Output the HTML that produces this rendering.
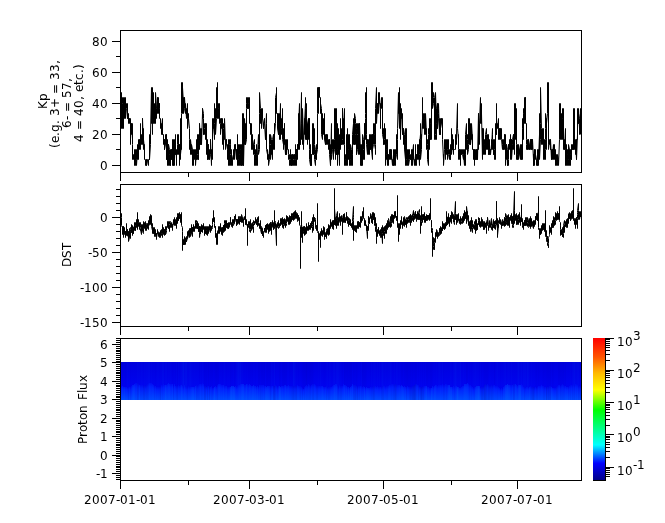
<!DOCTYPE html>
<html><head><meta charset="utf-8"><style>
html,body{margin:0;padding:0;background:#fff;}
body{width:665px;height:523px;overflow:hidden;}
svg{display:block;will-change:transform;}
text{font-family:"DejaVu Sans","Liberation Sans",sans-serif;font-size:12px;fill:#000;}
.tl{text-anchor:end;dominant-baseline:central;}
.xl{text-anchor:middle;}
.yt{text-anchor:middle;}
</style></head><body>
<svg width="665" height="523" viewBox="0 0 665 523">
<defs><linearGradient id="cw" x1="0" y1="1" x2="0" y2="0"><stop offset="0.0000" stop-color="rgb(0,0,137)"/><stop offset="0.1176" stop-color="rgb(0,0,255)"/><stop offset="0.2471" stop-color="rgb(0,255,255)"/><stop offset="0.4941" stop-color="rgb(0,255,0)"/><stop offset="0.6353" stop-color="rgb(255,255,0)"/><stop offset="0.7529" stop-color="rgb(255,185,0)"/><stop offset="0.8667" stop-color="rgb(255,84,0)"/><stop offset="1.0000" stop-color="rgb(255,0,0)"/></linearGradient></defs>
<rect x="593" y="338" width="12" height="142" fill="url(#cw)"/>
<defs><linearGradient id="bandg" x1="0" y1="0" x2="0" y2="1"><stop offset="0" stop-color="rgb(0,0,222)"/><stop offset="0.7" stop-color="rgb(0,4,240)"/><stop offset="1" stop-color="rgb(0,16,248)"/></linearGradient><linearGradient id="bandl" x1="0" y1="0" x2="0" y2="1"><stop offset="0" stop-color="rgb(0,28,252)" stop-opacity="0.3"/><stop offset="0.22" stop-color="rgb(0,30,252)"/><stop offset="1" stop-color="rgb(0,72,255)"/></linearGradient></defs>
<rect x="121" y="362" width="460" height="38" fill="url(#bandg)"/>
<g fill="url(#bandl)"><rect x="121" y="387" width="1" height="13"/><rect x="122" y="386" width="1" height="14"/><rect x="123" y="387" width="4" height="13"/><rect x="127" y="388" width="1" height="12"/><rect x="128" y="387" width="3" height="13"/><rect x="131" y="386" width="1" height="14"/><rect x="132" y="385" width="2" height="15"/><rect x="134" y="384" width="1" height="16"/><rect x="135" y="383" width="3" height="17"/><rect x="138" y="384" width="1" height="16"/><rect x="139" y="385" width="4" height="15"/><rect x="143" y="386" width="1" height="14"/><rect x="144" y="385" width="1" height="15"/><rect x="145" y="386" width="1" height="14"/><rect x="146" y="385" width="1" height="15"/><rect x="147" y="384" width="1" height="16"/><rect x="148" y="383" width="4" height="17"/><rect x="152" y="384" width="1" height="16"/><rect x="153" y="385" width="1" height="15"/><rect x="154" y="386" width="2" height="14"/><rect x="156" y="387" width="4" height="13"/><rect x="160" y="386" width="1" height="14"/><rect x="161" y="385" width="2" height="15"/><rect x="163" y="384" width="1" height="16"/><rect x="164" y="385" width="3" height="15"/><rect x="167" y="384" width="1" height="16"/><rect x="168" y="383" width="1" height="17"/><rect x="169" y="384" width="4" height="16"/><rect x="173" y="386" width="1" height="14"/><rect x="174" y="384" width="1" height="16"/><rect x="175" y="386" width="3" height="14"/><rect x="178" y="385" width="1" height="15"/><rect x="179" y="386" width="1" height="14"/><rect x="180" y="385" width="2" height="15"/><rect x="182" y="386" width="1" height="14"/><rect x="183" y="387" width="1" height="13"/><rect x="184" y="385" width="1" height="15"/><rect x="185" y="387" width="3" height="13"/><rect x="188" y="386" width="1" height="14"/><rect x="189" y="387" width="6" height="13"/><rect x="195" y="386" width="1" height="14"/><rect x="196" y="385" width="1" height="15"/><rect x="197" y="386" width="1" height="14"/><rect x="198" y="385" width="1" height="15"/><rect x="199" y="384" width="3" height="16"/><rect x="202" y="383" width="1" height="17"/><rect x="203" y="384" width="1" height="16"/><rect x="204" y="386" width="2" height="14"/><rect x="206" y="387" width="1" height="13"/><rect x="207" y="386" width="2" height="14"/><rect x="209" y="387" width="2" height="13"/><rect x="211" y="386" width="1" height="14"/><rect x="212" y="388" width="2" height="12"/><rect x="214" y="387" width="1" height="13"/><rect x="215" y="386" width="1" height="14"/><rect x="216" y="387" width="1" height="13"/><rect x="217" y="385" width="1" height="15"/><rect x="218" y="384" width="3" height="16"/><rect x="221" y="385" width="3" height="15"/><rect x="224" y="386" width="3" height="14"/><rect x="227" y="387" width="4" height="13"/><rect x="231" y="386" width="3" height="14"/><rect x="234" y="387" width="1" height="13"/><rect x="235" y="386" width="1" height="14"/><rect x="236" y="387" width="1" height="13"/><rect x="237" y="386" width="1" height="14"/><rect x="238" y="385" width="2" height="15"/><rect x="240" y="384" width="4" height="16"/><rect x="244" y="385" width="2" height="15"/><rect x="246" y="384" width="2" height="16"/><rect x="248" y="385" width="1" height="15"/><rect x="249" y="384" width="1" height="16"/><rect x="250" y="385" width="1" height="15"/><rect x="251" y="386" width="2" height="14"/><rect x="253" y="385" width="1" height="15"/><rect x="254" y="386" width="2" height="14"/><rect x="256" y="387" width="1" height="13"/><rect x="257" y="386" width="1" height="14"/><rect x="258" y="387" width="1" height="13"/><rect x="259" y="385" width="5" height="15"/><rect x="264" y="386" width="2" height="14"/><rect x="266" y="387" width="1" height="13"/><rect x="267" y="386" width="8" height="14"/><rect x="275" y="385" width="1" height="15"/><rect x="276" y="386" width="1" height="14"/><rect x="277" y="387" width="1" height="13"/><rect x="278" y="386" width="2" height="14"/><rect x="280" y="387" width="1" height="13"/><rect x="281" y="386" width="3" height="14"/><rect x="284" y="385" width="2" height="15"/><rect x="286" y="386" width="2" height="14"/><rect x="288" y="385" width="1" height="15"/><rect x="289" y="386" width="8" height="14"/><rect x="297" y="385" width="1" height="15"/><rect x="298" y="386" width="3" height="14"/><rect x="301" y="387" width="1" height="13"/><rect x="302" y="388" width="1" height="12"/><rect x="303" y="389" width="1" height="11"/><rect x="304" y="387" width="1" height="13"/><rect x="305" y="386" width="1" height="14"/><rect x="306" y="385" width="1" height="15"/><rect x="307" y="386" width="1" height="14"/><rect x="308" y="384" width="1" height="16"/><rect x="309" y="385" width="1" height="15"/><rect x="310" y="386" width="1" height="14"/><rect x="311" y="385" width="1" height="15"/><rect x="312" y="384" width="3" height="16"/><rect x="315" y="385" width="1" height="15"/><rect x="316" y="386" width="7" height="14"/><rect x="323" y="387" width="3" height="13"/><rect x="326" y="386" width="1" height="14"/><rect x="327" y="388" width="1" height="12"/><rect x="328" y="387" width="4" height="13"/><rect x="332" y="386" width="1" height="14"/><rect x="333" y="385" width="2" height="15"/><rect x="335" y="384" width="2" height="16"/><rect x="337" y="385" width="1" height="15"/><rect x="338" y="387" width="1" height="13"/><rect x="339" y="385" width="1" height="15"/><rect x="340" y="386" width="3" height="14"/><rect x="343" y="384" width="1" height="16"/><rect x="344" y="385" width="2" height="15"/><rect x="346" y="386" width="1" height="14"/><rect x="347" y="387" width="2" height="13"/><rect x="349" y="388" width="1" height="12"/><rect x="350" y="387" width="1" height="13"/><rect x="351" y="386" width="1" height="14"/><rect x="352" y="384" width="1" height="16"/><rect x="353" y="385" width="3" height="15"/><rect x="356" y="386" width="1" height="14"/><rect x="357" y="387" width="1" height="13"/><rect x="358" y="386" width="4" height="14"/><rect x="362" y="387" width="1" height="13"/><rect x="363" y="386" width="1" height="14"/><rect x="364" y="387" width="1" height="13"/><rect x="365" y="388" width="1" height="12"/><rect x="366" y="387" width="1" height="13"/><rect x="367" y="388" width="3" height="12"/><rect x="370" y="387" width="3" height="13"/><rect x="373" y="386" width="3" height="14"/><rect x="376" y="387" width="1" height="13"/><rect x="377" y="386" width="1" height="14"/><rect x="378" y="387" width="4" height="13"/><rect x="382" y="386" width="1" height="14"/><rect x="383" y="385" width="1" height="15"/><rect x="384" y="386" width="1" height="14"/><rect x="385" y="387" width="1" height="13"/><rect x="386" y="386" width="3" height="14"/><rect x="389" y="385" width="2" height="15"/><rect x="391" y="384" width="3" height="16"/><rect x="394" y="385" width="1" height="15"/><rect x="395" y="384" width="1" height="16"/><rect x="396" y="385" width="4" height="15"/><rect x="400" y="386" width="1" height="14"/><rect x="401" y="385" width="1" height="15"/><rect x="402" y="386" width="1" height="14"/><rect x="403" y="387" width="1" height="13"/><rect x="404" y="386" width="1" height="14"/><rect x="405" y="387" width="2" height="13"/><rect x="407" y="386" width="1" height="14"/><rect x="408" y="387" width="4" height="13"/><rect x="412" y="386" width="2" height="14"/><rect x="414" y="385" width="1" height="15"/><rect x="415" y="384" width="2" height="16"/><rect x="417" y="385" width="2" height="15"/><rect x="419" y="387" width="4" height="13"/><rect x="423" y="386" width="4" height="14"/><rect x="427" y="387" width="2" height="13"/><rect x="429" y="388" width="3" height="12"/><rect x="432" y="386" width="1" height="14"/><rect x="433" y="387" width="1" height="13"/><rect x="434" y="386" width="1" height="14"/><rect x="435" y="385" width="2" height="15"/><rect x="437" y="386" width="1" height="14"/><rect x="438" y="385" width="4" height="15"/><rect x="442" y="384" width="1" height="16"/><rect x="443" y="385" width="2" height="15"/><rect x="445" y="384" width="2" height="16"/><rect x="447" y="385" width="3" height="15"/><rect x="450" y="387" width="3" height="13"/><rect x="453" y="386" width="2" height="14"/><rect x="455" y="385" width="1" height="15"/><rect x="456" y="386" width="1" height="14"/><rect x="457" y="387" width="2" height="13"/><rect x="459" y="388" width="2" height="12"/><rect x="461" y="387" width="1" height="13"/><rect x="462" y="386" width="2" height="14"/><rect x="464" y="384" width="3" height="16"/><rect x="467" y="383" width="1" height="17"/><rect x="468" y="384" width="1" height="16"/><rect x="469" y="385" width="2" height="15"/><rect x="471" y="386" width="1" height="14"/><rect x="472" y="387" width="1" height="13"/><rect x="473" y="388" width="1" height="12"/><rect x="474" y="387" width="2" height="13"/><rect x="476" y="386" width="4" height="14"/><rect x="480" y="388" width="1" height="12"/><rect x="481" y="387" width="3" height="13"/><rect x="484" y="385" width="1" height="15"/><rect x="485" y="384" width="1" height="16"/><rect x="486" y="385" width="1" height="15"/><rect x="487" y="384" width="1" height="16"/><rect x="488" y="385" width="1" height="15"/><rect x="489" y="386" width="2" height="14"/><rect x="491" y="385" width="1" height="15"/><rect x="492" y="386" width="1" height="14"/><rect x="493" y="385" width="2" height="15"/><rect x="495" y="386" width="3" height="14"/><rect x="498" y="387" width="1" height="13"/><rect x="499" y="388" width="1" height="12"/><rect x="500" y="389" width="1" height="11"/><rect x="501" y="388" width="1" height="12"/><rect x="502" y="389" width="1" height="11"/><rect x="503" y="387" width="1" height="13"/><rect x="504" y="386" width="1" height="14"/><rect x="505" y="385" width="2" height="15"/><rect x="507" y="384" width="1" height="16"/><rect x="508" y="385" width="5" height="15"/><rect x="513" y="384" width="3" height="16"/><rect x="516" y="385" width="1" height="15"/><rect x="517" y="386" width="1" height="14"/><rect x="518" y="385" width="3" height="15"/><rect x="521" y="384" width="1" height="16"/><rect x="522" y="385" width="1" height="15"/><rect x="523" y="387" width="2" height="13"/><rect x="525" y="388" width="1" height="12"/><rect x="526" y="387" width="2" height="13"/><rect x="528" y="388" width="1" height="12"/><rect x="529" y="387" width="1" height="13"/><rect x="530" y="386" width="1" height="14"/><rect x="531" y="387" width="3" height="13"/><rect x="534" y="388" width="1" height="12"/><rect x="535" y="387" width="1" height="13"/><rect x="536" y="388" width="1" height="12"/><rect x="537" y="387" width="1" height="13"/><rect x="538" y="386" width="3" height="14"/><rect x="541" y="385" width="1" height="15"/><rect x="542" y="386" width="2" height="14"/><rect x="544" y="387" width="5" height="13"/><rect x="549" y="386" width="2" height="14"/><rect x="551" y="387" width="1" height="13"/><rect x="552" y="388" width="4" height="12"/><rect x="556" y="387" width="1" height="13"/><rect x="557" y="386" width="1" height="14"/><rect x="558" y="385" width="2" height="15"/><rect x="560" y="386" width="1" height="14"/><rect x="561" y="385" width="1" height="15"/><rect x="562" y="384" width="1" height="16"/><rect x="563" y="385" width="1" height="15"/><rect x="564" y="386" width="2" height="14"/><rect x="566" y="387" width="3" height="13"/><rect x="569" y="386" width="1" height="14"/><rect x="570" y="385" width="3" height="15"/><rect x="573" y="384" width="1" height="16"/><rect x="574" y="385" width="1" height="15"/><rect x="575" y="384" width="2" height="16"/><rect x="577" y="385" width="1" height="15"/><rect x="578" y="386" width="2" height="14"/><rect x="580" y="387" width="1" height="13"/></g>
<g fill="rgb(0,140,255)"><rect x="122" y="386" width="1" height="14" fill-opacity="0.08"/><rect x="123" y="387" width="1" height="13" fill-opacity="0.05"/><rect x="124" y="387" width="1" height="13" fill-opacity="0.09"/><rect x="125" y="387" width="1" height="13" fill-opacity="0.03"/><rect x="126" y="387" width="1" height="13" fill-opacity="0.04"/><rect x="127" y="388" width="1" height="12" fill-opacity="0.02"/><rect x="127" y="362" width="1" height="26" fill-opacity="0.02"/><rect x="129" y="387" width="1" height="13" fill-opacity="0.03"/><rect x="132" y="385" width="1" height="15" fill-opacity="0.09"/><rect x="133" y="385" width="1" height="15" fill-opacity="0.14"/><rect x="134" y="384" width="1" height="16" fill-opacity="0.11"/><rect x="137" y="362" width="1" height="21" fill-opacity="0.03"/><rect x="138" y="362" width="1" height="22" fill-opacity="0.02"/><rect x="139" y="385" width="1" height="15" fill-opacity="0.10"/><rect x="139" y="362" width="1" height="23" fill-opacity="0.02"/><rect x="140" y="362" width="1" height="23" fill-opacity="0.02"/><rect x="141" y="362" width="1" height="23" fill-opacity="0.04"/><rect x="142" y="362" width="1" height="23" fill-opacity="0.03"/><rect x="143" y="362" width="1" height="24" fill-opacity="0.01"/><rect x="144" y="362" width="1" height="23" fill-opacity="0.04"/><rect x="145" y="362" width="1" height="24" fill-opacity="0.03"/><rect x="146" y="362" width="1" height="23" fill-opacity="0.04"/><rect x="147" y="362" width="1" height="22" fill-opacity="0.04"/><rect x="148" y="362" width="1" height="21" fill-opacity="0.05"/><rect x="149" y="383" width="1" height="17" fill-opacity="0.06"/><rect x="149" y="362" width="1" height="21" fill-opacity="0.05"/><rect x="150" y="383" width="1" height="17" fill-opacity="0.02"/><rect x="151" y="362" width="1" height="21" fill-opacity="0.02"/><rect x="152" y="384" width="1" height="16" fill-opacity="0.05"/><rect x="153" y="385" width="1" height="15" fill-opacity="0.05"/><rect x="155" y="386" width="1" height="14" fill-opacity="0.03"/><rect x="157" y="362" width="1" height="25" fill-opacity="0.02"/><rect x="158" y="362" width="1" height="25" fill-opacity="0.02"/><rect x="160" y="362" width="1" height="24" fill-opacity="0.02"/><rect x="161" y="362" width="1" height="23" fill-opacity="0.02"/><rect x="162" y="362" width="1" height="23" fill-opacity="0.05"/><rect x="163" y="362" width="1" height="22" fill-opacity="0.05"/><rect x="164" y="385" width="1" height="15" fill-opacity="0.04"/><rect x="164" y="362" width="1" height="23" fill-opacity="0.01"/><rect x="165" y="385" width="1" height="15" fill-opacity="0.15"/><rect x="165" y="362" width="1" height="23" fill-opacity="0.04"/><rect x="166" y="385" width="1" height="15" fill-opacity="0.08"/><rect x="166" y="362" width="1" height="23" fill-opacity="0.04"/><rect x="167" y="384" width="1" height="16" fill-opacity="0.05"/><rect x="167" y="362" width="1" height="22" fill-opacity="0.01"/><rect x="168" y="383" width="1" height="17" fill-opacity="0.07"/><rect x="168" y="362" width="1" height="21" fill-opacity="0.03"/><rect x="169" y="384" width="1" height="16" fill-opacity="0.09"/><rect x="169" y="362" width="1" height="22" fill-opacity="0.02"/><rect x="170" y="384" width="1" height="16" fill-opacity="0.02"/><rect x="170" y="362" width="1" height="22" fill-opacity="0.02"/><rect x="172" y="384" width="1" height="16" fill-opacity="0.07"/><rect x="174" y="384" width="1" height="16" fill-opacity="0.03"/><rect x="175" y="386" width="1" height="14" fill-opacity="0.04"/><rect x="176" y="362" width="1" height="24" fill-opacity="0.02"/><rect x="178" y="362" width="1" height="23" fill-opacity="0.03"/><rect x="180" y="362" width="1" height="23" fill-opacity="0.04"/><rect x="181" y="385" width="1" height="15" fill-opacity="0.11"/><rect x="181" y="362" width="1" height="23" fill-opacity="0.05"/><rect x="182" y="386" width="1" height="14" fill-opacity="0.07"/><rect x="182" y="362" width="1" height="24" fill-opacity="0.07"/><rect x="183" y="387" width="1" height="13" fill-opacity="0.04"/><rect x="183" y="362" width="1" height="25" fill-opacity="0.11"/><rect x="184" y="385" width="1" height="15" fill-opacity="0.05"/><rect x="184" y="362" width="1" height="23" fill-opacity="0.06"/><rect x="185" y="387" width="1" height="13" fill-opacity="0.06"/><rect x="185" y="362" width="1" height="25" fill-opacity="0.08"/><rect x="186" y="362" width="1" height="25" fill-opacity="0.08"/><rect x="187" y="362" width="1" height="25" fill-opacity="0.04"/><rect x="188" y="362" width="1" height="24" fill-opacity="0.04"/><rect x="189" y="387" width="1" height="13" fill-opacity="0.02"/><rect x="189" y="362" width="1" height="25" fill-opacity="0.05"/><rect x="190" y="387" width="1" height="13" fill-opacity="0.06"/><rect x="190" y="362" width="1" height="25" fill-opacity="0.06"/><rect x="191" y="387" width="1" height="13" fill-opacity="0.11"/><rect x="191" y="362" width="1" height="25" fill-opacity="0.04"/><rect x="192" y="387" width="1" height="13" fill-opacity="0.15"/><rect x="192" y="362" width="1" height="25" fill-opacity="0.03"/><rect x="193" y="387" width="1" height="13" fill-opacity="0.15"/><rect x="193" y="362" width="1" height="25" fill-opacity="0.02"/><rect x="194" y="387" width="1" height="13" fill-opacity="0.06"/><rect x="194" y="362" width="1" height="25" fill-opacity="0.03"/><rect x="195" y="386" width="1" height="14" fill-opacity="0.11"/><rect x="195" y="362" width="1" height="24" fill-opacity="0.02"/><rect x="196" y="362" width="1" height="23" fill-opacity="0.02"/><rect x="197" y="362" width="1" height="24" fill-opacity="0.02"/><rect x="198" y="362" width="1" height="23" fill-opacity="0.02"/><rect x="200" y="384" width="1" height="16" fill-opacity="0.03"/><rect x="200" y="362" width="1" height="22" fill-opacity="0.02"/><rect x="202" y="362" width="1" height="21" fill-opacity="0.03"/><rect x="210" y="387" width="1" height="13" fill-opacity="0.03"/><rect x="213" y="388" width="1" height="12" fill-opacity="0.05"/><rect x="214" y="387" width="1" height="13" fill-opacity="0.14"/><rect x="215" y="386" width="1" height="14" fill-opacity="0.03"/><rect x="218" y="384" width="1" height="16" fill-opacity="0.04"/><rect x="219" y="384" width="1" height="16" fill-opacity="0.06"/><rect x="221" y="385" width="1" height="15" fill-opacity="0.03"/><rect x="223" y="385" width="1" height="15" fill-opacity="0.06"/><rect x="224" y="362" width="1" height="24" fill-opacity="0.03"/><rect x="225" y="386" width="1" height="14" fill-opacity="0.04"/><rect x="226" y="386" width="1" height="14" fill-opacity="0.05"/><rect x="229" y="387" width="1" height="13" fill-opacity="0.03"/><rect x="230" y="387" width="1" height="13" fill-opacity="0.16"/><rect x="231" y="386" width="1" height="14" fill-opacity="0.20"/><rect x="232" y="386" width="1" height="14" fill-opacity="0.15"/><rect x="233" y="386" width="1" height="14" fill-opacity="0.19"/><rect x="234" y="387" width="1" height="13" fill-opacity="0.17"/><rect x="235" y="386" width="1" height="14" fill-opacity="0.05"/><rect x="236" y="387" width="1" height="13" fill-opacity="0.03"/><rect x="236" y="362" width="1" height="25" fill-opacity="0.03"/><rect x="237" y="362" width="1" height="24" fill-opacity="0.05"/><rect x="238" y="385" width="1" height="15" fill-opacity="0.04"/><rect x="238" y="362" width="1" height="23" fill-opacity="0.07"/><rect x="239" y="385" width="1" height="15" fill-opacity="0.07"/><rect x="239" y="362" width="1" height="23" fill-opacity="0.05"/><rect x="240" y="384" width="1" height="16" fill-opacity="0.05"/><rect x="240" y="362" width="1" height="22" fill-opacity="0.07"/><rect x="241" y="384" width="1" height="16" fill-opacity="0.11"/><rect x="241" y="362" width="1" height="22" fill-opacity="0.03"/><rect x="242" y="384" width="1" height="16" fill-opacity="0.14"/><rect x="242" y="362" width="1" height="22" fill-opacity="0.03"/><rect x="243" y="384" width="1" height="16" fill-opacity="0.13"/><rect x="244" y="385" width="1" height="15" fill-opacity="0.05"/><rect x="245" y="385" width="1" height="15" fill-opacity="0.06"/><rect x="246" y="384" width="1" height="16" fill-opacity="0.10"/><rect x="248" y="385" width="1" height="15" fill-opacity="0.03"/><rect x="249" y="384" width="1" height="16" fill-opacity="0.06"/><rect x="250" y="385" width="1" height="15" fill-opacity="0.07"/><rect x="251" y="386" width="1" height="14" fill-opacity="0.07"/><rect x="252" y="386" width="1" height="14" fill-opacity="0.13"/><rect x="253" y="385" width="1" height="15" fill-opacity="0.11"/><rect x="254" y="386" width="1" height="14" fill-opacity="0.08"/><rect x="255" y="386" width="1" height="14" fill-opacity="0.10"/><rect x="256" y="387" width="1" height="13" fill-opacity="0.05"/><rect x="257" y="386" width="1" height="14" fill-opacity="0.08"/><rect x="265" y="386" width="1" height="14" fill-opacity="0.09"/><rect x="266" y="387" width="1" height="13" fill-opacity="0.13"/><rect x="267" y="386" width="1" height="14" fill-opacity="0.10"/><rect x="268" y="386" width="1" height="14" fill-opacity="0.08"/><rect x="269" y="386" width="1" height="14" fill-opacity="0.04"/><rect x="271" y="362" width="1" height="24" fill-opacity="0.03"/><rect x="272" y="386" width="1" height="14" fill-opacity="0.07"/><rect x="272" y="362" width="1" height="24" fill-opacity="0.01"/><rect x="274" y="362" width="1" height="24" fill-opacity="0.05"/><rect x="278" y="386" width="1" height="14" fill-opacity="0.02"/><rect x="279" y="386" width="1" height="14" fill-opacity="0.15"/><rect x="280" y="387" width="1" height="13" fill-opacity="0.15"/><rect x="281" y="386" width="1" height="14" fill-opacity="0.04"/><rect x="282" y="386" width="1" height="14" fill-opacity="0.06"/><rect x="285" y="385" width="1" height="15" fill-opacity="0.07"/><rect x="286" y="386" width="1" height="14" fill-opacity="0.04"/><rect x="287" y="386" width="1" height="14" fill-opacity="0.06"/><rect x="288" y="385" width="1" height="15" fill-opacity="0.04"/><rect x="288" y="362" width="1" height="23" fill-opacity="0.01"/><rect x="293" y="362" width="1" height="24" fill-opacity="0.07"/><rect x="294" y="362" width="1" height="24" fill-opacity="0.05"/><rect x="295" y="362" width="1" height="24" fill-opacity="0.03"/><rect x="297" y="362" width="1" height="23" fill-opacity="0.01"/><rect x="298" y="386" width="1" height="14" fill-opacity="0.04"/><rect x="303" y="389" width="1" height="11" fill-opacity="0.05"/><rect x="318" y="362" width="1" height="24" fill-opacity="0.02"/><rect x="319" y="386" width="1" height="14" fill-opacity="0.02"/><rect x="320" y="362" width="1" height="24" fill-opacity="0.04"/><rect x="321" y="386" width="1" height="14" fill-opacity="0.04"/><rect x="322" y="386" width="1" height="14" fill-opacity="0.08"/><rect x="323" y="387" width="1" height="13" fill-opacity="0.05"/><rect x="325" y="387" width="1" height="13" fill-opacity="0.05"/><rect x="326" y="362" width="1" height="24" fill-opacity="0.01"/><rect x="327" y="362" width="1" height="26" fill-opacity="0.03"/><rect x="329" y="362" width="1" height="25" fill-opacity="0.03"/><rect x="330" y="362" width="1" height="25" fill-opacity="0.02"/><rect x="331" y="387" width="1" height="13" fill-opacity="0.05"/><rect x="332" y="386" width="1" height="14" fill-opacity="0.03"/><rect x="333" y="385" width="1" height="15" fill-opacity="0.05"/><rect x="333" y="362" width="1" height="23" fill-opacity="0.04"/><rect x="334" y="385" width="1" height="15" fill-opacity="0.13"/><rect x="334" y="362" width="1" height="23" fill-opacity="0.05"/><rect x="335" y="384" width="1" height="16" fill-opacity="0.07"/><rect x="335" y="362" width="1" height="22" fill-opacity="0.02"/><rect x="336" y="384" width="1" height="16" fill-opacity="0.08"/><rect x="336" y="362" width="1" height="22" fill-opacity="0.05"/><rect x="337" y="362" width="1" height="23" fill-opacity="0.06"/><rect x="338" y="362" width="1" height="25" fill-opacity="0.05"/><rect x="339" y="362" width="1" height="23" fill-opacity="0.03"/><rect x="340" y="362" width="1" height="24" fill-opacity="0.02"/><rect x="344" y="385" width="1" height="15" fill-opacity="0.08"/><rect x="346" y="386" width="1" height="14" fill-opacity="0.07"/><rect x="348" y="387" width="1" height="13" fill-opacity="0.10"/><rect x="349" y="388" width="1" height="12" fill-opacity="0.04"/><rect x="350" y="387" width="1" height="13" fill-opacity="0.13"/><rect x="351" y="386" width="1" height="14" fill-opacity="0.06"/><rect x="352" y="384" width="1" height="16" fill-opacity="0.07"/><rect x="360" y="386" width="1" height="14" fill-opacity="0.03"/><rect x="361" y="362" width="1" height="24" fill-opacity="0.03"/><rect x="364" y="387" width="1" height="13" fill-opacity="0.10"/><rect x="366" y="387" width="1" height="13" fill-opacity="0.08"/><rect x="367" y="388" width="1" height="12" fill-opacity="0.11"/><rect x="368" y="388" width="1" height="12" fill-opacity="0.09"/><rect x="369" y="388" width="1" height="12" fill-opacity="0.06"/><rect x="371" y="362" width="1" height="25" fill-opacity="0.03"/><rect x="373" y="362" width="1" height="24" fill-opacity="0.02"/><rect x="374" y="362" width="1" height="24" fill-opacity="0.03"/><rect x="375" y="362" width="1" height="24" fill-opacity="0.02"/><rect x="376" y="387" width="1" height="13" fill-opacity="0.03"/><rect x="377" y="362" width="1" height="24" fill-opacity="0.03"/><rect x="379" y="362" width="1" height="25" fill-opacity="0.03"/><rect x="380" y="387" width="1" height="13" fill-opacity="0.04"/><rect x="381" y="362" width="1" height="25" fill-opacity="0.03"/><rect x="382" y="362" width="1" height="24" fill-opacity="0.06"/><rect x="383" y="362" width="1" height="23" fill-opacity="0.03"/><rect x="384" y="362" width="1" height="24" fill-opacity="0.02"/><rect x="385" y="362" width="1" height="25" fill-opacity="0.03"/><rect x="386" y="362" width="1" height="24" fill-opacity="0.02"/><rect x="387" y="362" width="1" height="24" fill-opacity="0.02"/><rect x="388" y="386" width="1" height="14" fill-opacity="0.06"/><rect x="388" y="362" width="1" height="24" fill-opacity="0.03"/><rect x="389" y="385" width="1" height="15" fill-opacity="0.06"/><rect x="389" y="362" width="1" height="23" fill-opacity="0.03"/><rect x="390" y="385" width="1" height="15" fill-opacity="0.02"/><rect x="390" y="362" width="1" height="23" fill-opacity="0.05"/><rect x="391" y="362" width="1" height="22" fill-opacity="0.03"/><rect x="394" y="362" width="1" height="23" fill-opacity="0.03"/><rect x="396" y="362" width="1" height="23" fill-opacity="0.04"/><rect x="397" y="362" width="1" height="23" fill-opacity="0.03"/><rect x="398" y="385" width="1" height="15" fill-opacity="0.03"/><rect x="398" y="362" width="1" height="23" fill-opacity="0.01"/><rect x="399" y="385" width="1" height="15" fill-opacity="0.06"/><rect x="399" y="362" width="1" height="23" fill-opacity="0.02"/><rect x="400" y="386" width="1" height="14" fill-opacity="0.06"/><rect x="401" y="385" width="1" height="15" fill-opacity="0.08"/><rect x="402" y="386" width="1" height="14" fill-opacity="0.13"/><rect x="403" y="387" width="1" height="13" fill-opacity="0.13"/><rect x="404" y="386" width="1" height="14" fill-opacity="0.04"/><rect x="405" y="387" width="1" height="13" fill-opacity="0.08"/><rect x="417" y="385" width="1" height="15" fill-opacity="0.04"/><rect x="425" y="386" width="1" height="14" fill-opacity="0.07"/><rect x="426" y="386" width="1" height="14" fill-opacity="0.12"/><rect x="428" y="387" width="1" height="13" fill-opacity="0.04"/><rect x="431" y="388" width="1" height="12" fill-opacity="0.14"/><rect x="432" y="386" width="1" height="14" fill-opacity="0.06"/><rect x="433" y="387" width="1" height="13" fill-opacity="0.03"/><rect x="434" y="386" width="1" height="14" fill-opacity="0.10"/><rect x="434" y="362" width="1" height="24" fill-opacity="0.01"/><rect x="435" y="385" width="1" height="15" fill-opacity="0.07"/><rect x="436" y="362" width="1" height="23" fill-opacity="0.02"/><rect x="438" y="362" width="1" height="23" fill-opacity="0.03"/><rect x="439" y="362" width="1" height="23" fill-opacity="0.04"/><rect x="440" y="385" width="1" height="15" fill-opacity="0.04"/><rect x="440" y="362" width="1" height="23" fill-opacity="0.02"/><rect x="442" y="362" width="1" height="22" fill-opacity="0.04"/><rect x="447" y="385" width="1" height="15" fill-opacity="0.03"/><rect x="448" y="385" width="1" height="15" fill-opacity="0.13"/><rect x="449" y="385" width="1" height="15" fill-opacity="0.16"/><rect x="450" y="387" width="1" height="13" fill-opacity="0.17"/><rect x="450" y="362" width="1" height="25" fill-opacity="0.03"/><rect x="451" y="387" width="1" height="13" fill-opacity="0.18"/><rect x="451" y="362" width="1" height="25" fill-opacity="0.02"/><rect x="452" y="387" width="1" height="13" fill-opacity="0.05"/><rect x="453" y="386" width="1" height="14" fill-opacity="0.04"/><rect x="453" y="362" width="1" height="24" fill-opacity="0.04"/><rect x="454" y="362" width="1" height="24" fill-opacity="0.06"/><rect x="455" y="362" width="1" height="23" fill-opacity="0.08"/><rect x="456" y="386" width="1" height="14" fill-opacity="0.09"/><rect x="456" y="362" width="1" height="24" fill-opacity="0.05"/><rect x="457" y="387" width="1" height="13" fill-opacity="0.22"/><rect x="457" y="362" width="1" height="25" fill-opacity="0.04"/><rect x="458" y="387" width="1" height="13" fill-opacity="0.13"/><rect x="458" y="362" width="1" height="25" fill-opacity="0.04"/><rect x="459" y="388" width="1" height="12" fill-opacity="0.11"/><rect x="459" y="362" width="1" height="26" fill-opacity="0.04"/><rect x="460" y="388" width="1" height="12" fill-opacity="0.10"/><rect x="460" y="362" width="1" height="26" fill-opacity="0.06"/><rect x="461" y="387" width="1" height="13" fill-opacity="0.08"/><rect x="462" y="386" width="1" height="14" fill-opacity="0.05"/><rect x="463" y="386" width="1" height="14" fill-opacity="0.09"/><rect x="463" y="362" width="1" height="24" fill-opacity="0.02"/><rect x="464" y="384" width="1" height="16" fill-opacity="0.12"/><rect x="465" y="384" width="1" height="16" fill-opacity="0.12"/><rect x="466" y="384" width="1" height="16" fill-opacity="0.11"/><rect x="467" y="383" width="1" height="17" fill-opacity="0.07"/><rect x="468" y="384" width="1" height="16" fill-opacity="0.03"/><rect x="472" y="387" width="1" height="13" fill-opacity="0.03"/><rect x="473" y="362" width="1" height="26" fill-opacity="0.02"/><rect x="474" y="362" width="1" height="25" fill-opacity="0.03"/><rect x="475" y="387" width="1" height="13" fill-opacity="0.12"/><rect x="475" y="362" width="1" height="25" fill-opacity="0.04"/><rect x="476" y="386" width="1" height="14" fill-opacity="0.14"/><rect x="476" y="362" width="1" height="24" fill-opacity="0.02"/><rect x="477" y="386" width="1" height="14" fill-opacity="0.16"/><rect x="477" y="362" width="1" height="24" fill-opacity="0.02"/><rect x="478" y="386" width="1" height="14" fill-opacity="0.22"/><rect x="478" y="362" width="1" height="24" fill-opacity="0.02"/><rect x="479" y="386" width="1" height="14" fill-opacity="0.15"/><rect x="480" y="388" width="1" height="12" fill-opacity="0.03"/><rect x="480" y="362" width="1" height="26" fill-opacity="0.02"/><rect x="490" y="362" width="1" height="24" fill-opacity="0.01"/><rect x="496" y="362" width="1" height="24" fill-opacity="0.02"/><rect x="497" y="362" width="1" height="24" fill-opacity="0.04"/><rect x="498" y="387" width="1" height="13" fill-opacity="0.02"/><rect x="498" y="362" width="1" height="25" fill-opacity="0.01"/><rect x="499" y="388" width="1" height="12" fill-opacity="0.04"/><rect x="499" y="362" width="1" height="26" fill-opacity="0.01"/><rect x="503" y="387" width="1" height="13" fill-opacity="0.07"/><rect x="503" y="362" width="1" height="25" fill-opacity="0.01"/><rect x="504" y="386" width="1" height="14" fill-opacity="0.06"/><rect x="504" y="362" width="1" height="24" fill-opacity="0.03"/><rect x="505" y="385" width="1" height="15" fill-opacity="0.15"/><rect x="505" y="362" width="1" height="23" fill-opacity="0.04"/><rect x="506" y="385" width="1" height="15" fill-opacity="0.17"/><rect x="507" y="384" width="1" height="16" fill-opacity="0.18"/><rect x="507" y="362" width="1" height="22" fill-opacity="0.02"/><rect x="508" y="385" width="1" height="15" fill-opacity="0.15"/><rect x="508" y="362" width="1" height="23" fill-opacity="0.03"/><rect x="509" y="385" width="1" height="15" fill-opacity="0.13"/><rect x="509" y="362" width="1" height="23" fill-opacity="0.02"/><rect x="510" y="385" width="1" height="15" fill-opacity="0.04"/><rect x="511" y="362" width="1" height="23" fill-opacity="0.03"/><rect x="512" y="385" width="1" height="15" fill-opacity="0.07"/><rect x="515" y="384" width="1" height="16" fill-opacity="0.09"/><rect x="516" y="385" width="1" height="15" fill-opacity="0.08"/><rect x="517" y="386" width="1" height="14" fill-opacity="0.05"/><rect x="517" y="362" width="1" height="24" fill-opacity="0.03"/><rect x="518" y="385" width="1" height="15" fill-opacity="0.12"/><rect x="518" y="362" width="1" height="23" fill-opacity="0.06"/><rect x="519" y="385" width="1" height="15" fill-opacity="0.18"/><rect x="519" y="362" width="1" height="23" fill-opacity="0.02"/><rect x="520" y="385" width="1" height="15" fill-opacity="0.17"/><rect x="520" y="362" width="1" height="23" fill-opacity="0.03"/><rect x="521" y="362" width="1" height="22" fill-opacity="0.05"/><rect x="522" y="362" width="1" height="23" fill-opacity="0.02"/><rect x="523" y="387" width="1" height="13" fill-opacity="0.06"/><rect x="523" y="362" width="1" height="25" fill-opacity="0.05"/><rect x="524" y="362" width="1" height="25" fill-opacity="0.05"/><rect x="525" y="388" width="1" height="12" fill-opacity="0.04"/><rect x="525" y="362" width="1" height="26" fill-opacity="0.05"/><rect x="526" y="387" width="1" height="13" fill-opacity="0.03"/><rect x="526" y="362" width="1" height="25" fill-opacity="0.03"/><rect x="527" y="387" width="1" height="13" fill-opacity="0.06"/><rect x="527" y="362" width="1" height="25" fill-opacity="0.07"/><rect x="528" y="388" width="1" height="12" fill-opacity="0.06"/><rect x="528" y="362" width="1" height="26" fill-opacity="0.05"/><rect x="529" y="387" width="1" height="13" fill-opacity="0.09"/><rect x="529" y="362" width="1" height="25" fill-opacity="0.02"/><rect x="531" y="362" width="1" height="25" fill-opacity="0.02"/><rect x="538" y="386" width="1" height="14" fill-opacity="0.02"/><rect x="541" y="385" width="1" height="15" fill-opacity="0.02"/><rect x="542" y="386" width="1" height="14" fill-opacity="0.02"/><rect x="551" y="387" width="1" height="13" fill-opacity="0.11"/><rect x="552" y="388" width="1" height="12" fill-opacity="0.08"/><rect x="553" y="388" width="1" height="12" fill-opacity="0.04"/><rect x="559" y="385" width="1" height="15" fill-opacity="0.03"/><rect x="565" y="386" width="1" height="14" fill-opacity="0.05"/><rect x="566" y="387" width="1" height="13" fill-opacity="0.05"/><rect x="567" y="387" width="1" height="13" fill-opacity="0.08"/><rect x="570" y="362" width="1" height="23" fill-opacity="0.02"/><rect x="572" y="362" width="1" height="23" fill-opacity="0.04"/><rect x="573" y="362" width="1" height="22" fill-opacity="0.05"/><rect x="574" y="362" width="1" height="23" fill-opacity="0.07"/><rect x="575" y="362" width="1" height="22" fill-opacity="0.04"/><rect x="576" y="362" width="1" height="22" fill-opacity="0.04"/><rect x="577" y="385" width="1" height="15" fill-opacity="0.02"/><rect x="577" y="362" width="1" height="23" fill-opacity="0.05"/><rect x="578" y="362" width="1" height="24" fill-opacity="0.05"/><rect x="579" y="362" width="1" height="24" fill-opacity="0.02"/></g>
<g fill="rgb(0,0,140)"><rect x="121" y="362" width="1" height="25" fill-opacity="0.03"/><rect x="122" y="362" width="1" height="24" fill-opacity="0.03"/><rect x="123" y="362" width="1" height="25" fill-opacity="0.02"/><rect x="124" y="362" width="1" height="25" fill-opacity="0.01"/><rect x="125" y="362" width="1" height="25" fill-opacity="0.03"/><rect x="126" y="362" width="1" height="25" fill-opacity="0.01"/><rect x="128" y="387" width="1" height="13" fill-opacity="0.08"/><rect x="130" y="387" width="1" height="13" fill-opacity="0.06"/><rect x="130" y="362" width="1" height="25" fill-opacity="0.01"/><rect x="137" y="383" width="1" height="17" fill-opacity="0.10"/><rect x="138" y="384" width="1" height="16" fill-opacity="0.06"/><rect x="140" y="385" width="1" height="15" fill-opacity="0.04"/><rect x="141" y="385" width="1" height="15" fill-opacity="0.04"/><rect x="142" y="385" width="1" height="15" fill-opacity="0.03"/><rect x="143" y="386" width="1" height="14" fill-opacity="0.10"/><rect x="144" y="385" width="1" height="15" fill-opacity="0.11"/><rect x="145" y="386" width="1" height="14" fill-opacity="0.03"/><rect x="146" y="385" width="1" height="15" fill-opacity="0.07"/><rect x="147" y="384" width="1" height="16" fill-opacity="0.07"/><rect x="148" y="383" width="1" height="17" fill-opacity="0.03"/><rect x="154" y="386" width="1" height="14" fill-opacity="0.04"/><rect x="155" y="362" width="1" height="24" fill-opacity="0.02"/><rect x="156" y="387" width="1" height="13" fill-opacity="0.02"/><rect x="158" y="387" width="1" height="13" fill-opacity="0.02"/><rect x="159" y="387" width="1" height="13" fill-opacity="0.03"/><rect x="160" y="386" width="1" height="14" fill-opacity="0.12"/><rect x="162" y="385" width="1" height="15" fill-opacity="0.03"/><rect x="172" y="362" width="1" height="22" fill-opacity="0.02"/><rect x="173" y="386" width="1" height="14" fill-opacity="0.07"/><rect x="173" y="362" width="1" height="24" fill-opacity="0.01"/><rect x="175" y="362" width="1" height="24" fill-opacity="0.02"/><rect x="176" y="386" width="1" height="14" fill-opacity="0.04"/><rect x="177" y="386" width="1" height="14" fill-opacity="0.08"/><rect x="177" y="362" width="1" height="24" fill-opacity="0.03"/><rect x="187" y="387" width="1" height="13" fill-opacity="0.06"/><rect x="196" y="385" width="1" height="15" fill-opacity="0.07"/><rect x="197" y="386" width="1" height="14" fill-opacity="0.04"/><rect x="198" y="385" width="1" height="15" fill-opacity="0.04"/><rect x="199" y="384" width="1" height="16" fill-opacity="0.03"/><rect x="199" y="362" width="1" height="22" fill-opacity="0.02"/><rect x="201" y="384" width="1" height="16" fill-opacity="0.04"/><rect x="202" y="383" width="1" height="17" fill-opacity="0.03"/><rect x="204" y="386" width="1" height="14" fill-opacity="0.12"/><rect x="204" y="362" width="1" height="24" fill-opacity="0.04"/><rect x="205" y="386" width="1" height="14" fill-opacity="0.11"/><rect x="205" y="362" width="1" height="24" fill-opacity="0.03"/><rect x="206" y="362" width="1" height="25" fill-opacity="0.04"/><rect x="207" y="386" width="1" height="14" fill-opacity="0.11"/><rect x="207" y="362" width="1" height="24" fill-opacity="0.02"/><rect x="208" y="362" width="1" height="24" fill-opacity="0.06"/><rect x="209" y="387" width="1" height="13" fill-opacity="0.10"/><rect x="209" y="362" width="1" height="25" fill-opacity="0.02"/><rect x="210" y="362" width="1" height="25" fill-opacity="0.03"/><rect x="211" y="386" width="1" height="14" fill-opacity="0.04"/><rect x="211" y="362" width="1" height="24" fill-opacity="0.03"/><rect x="212" y="388" width="1" height="12" fill-opacity="0.03"/><rect x="212" y="362" width="1" height="26" fill-opacity="0.03"/><rect x="213" y="362" width="1" height="26" fill-opacity="0.01"/><rect x="214" y="362" width="1" height="25" fill-opacity="0.02"/><rect x="215" y="362" width="1" height="24" fill-opacity="0.05"/><rect x="216" y="362" width="1" height="25" fill-opacity="0.06"/><rect x="217" y="385" width="1" height="15" fill-opacity="0.06"/><rect x="217" y="362" width="1" height="23" fill-opacity="0.05"/><rect x="218" y="362" width="1" height="22" fill-opacity="0.04"/><rect x="222" y="362" width="1" height="23" fill-opacity="0.01"/><rect x="226" y="362" width="1" height="24" fill-opacity="0.01"/><rect x="227" y="387" width="1" height="13" fill-opacity="0.02"/><rect x="230" y="362" width="1" height="25" fill-opacity="0.04"/><rect x="231" y="362" width="1" height="24" fill-opacity="0.02"/><rect x="232" y="362" width="1" height="24" fill-opacity="0.01"/><rect x="234" y="362" width="1" height="25" fill-opacity="0.03"/><rect x="235" y="362" width="1" height="24" fill-opacity="0.01"/><rect x="246" y="362" width="1" height="22" fill-opacity="0.01"/><rect x="248" y="362" width="1" height="23" fill-opacity="0.02"/><rect x="249" y="362" width="1" height="22" fill-opacity="0.02"/><rect x="250" y="362" width="1" height="23" fill-opacity="0.02"/><rect x="251" y="362" width="1" height="24" fill-opacity="0.01"/><rect x="252" y="362" width="1" height="24" fill-opacity="0.02"/><rect x="255" y="362" width="1" height="24" fill-opacity="0.01"/><rect x="258" y="362" width="1" height="25" fill-opacity="0.04"/><rect x="259" y="362" width="1" height="23" fill-opacity="0.04"/><rect x="260" y="385" width="1" height="15" fill-opacity="0.07"/><rect x="260" y="362" width="1" height="23" fill-opacity="0.02"/><rect x="261" y="385" width="1" height="15" fill-opacity="0.03"/><rect x="261" y="362" width="1" height="23" fill-opacity="0.05"/><rect x="262" y="385" width="1" height="15" fill-opacity="0.03"/><rect x="262" y="362" width="1" height="23" fill-opacity="0.05"/><rect x="263" y="362" width="1" height="23" fill-opacity="0.04"/><rect x="264" y="386" width="1" height="14" fill-opacity="0.03"/><rect x="264" y="362" width="1" height="24" fill-opacity="0.06"/><rect x="266" y="362" width="1" height="25" fill-opacity="0.04"/><rect x="267" y="362" width="1" height="24" fill-opacity="0.05"/><rect x="268" y="362" width="1" height="24" fill-opacity="0.03"/><rect x="269" y="362" width="1" height="24" fill-opacity="0.04"/><rect x="270" y="386" width="1" height="14" fill-opacity="0.09"/><rect x="270" y="362" width="1" height="24" fill-opacity="0.03"/><rect x="273" y="386" width="1" height="14" fill-opacity="0.13"/><rect x="274" y="386" width="1" height="14" fill-opacity="0.16"/><rect x="275" y="385" width="1" height="15" fill-opacity="0.08"/><rect x="275" y="362" width="1" height="23" fill-opacity="0.01"/><rect x="277" y="387" width="1" height="13" fill-opacity="0.04"/><rect x="279" y="362" width="1" height="24" fill-opacity="0.04"/><rect x="280" y="362" width="1" height="25" fill-opacity="0.02"/><rect x="282" y="362" width="1" height="24" fill-opacity="0.03"/><rect x="283" y="362" width="1" height="24" fill-opacity="0.05"/><rect x="284" y="362" width="1" height="23" fill-opacity="0.05"/><rect x="285" y="362" width="1" height="23" fill-opacity="0.04"/><rect x="286" y="362" width="1" height="24" fill-opacity="0.03"/><rect x="289" y="362" width="1" height="24" fill-opacity="0.02"/><rect x="290" y="386" width="1" height="14" fill-opacity="0.02"/><rect x="291" y="386" width="1" height="14" fill-opacity="0.05"/><rect x="292" y="386" width="1" height="14" fill-opacity="0.09"/><rect x="293" y="386" width="1" height="14" fill-opacity="0.11"/><rect x="294" y="386" width="1" height="14" fill-opacity="0.06"/><rect x="295" y="386" width="1" height="14" fill-opacity="0.08"/><rect x="296" y="386" width="1" height="14" fill-opacity="0.10"/><rect x="298" y="362" width="1" height="24" fill-opacity="0.01"/><rect x="299" y="386" width="1" height="14" fill-opacity="0.02"/><rect x="300" y="386" width="1" height="14" fill-opacity="0.07"/><rect x="301" y="362" width="1" height="25" fill-opacity="0.01"/><rect x="302" y="388" width="1" height="12" fill-opacity="0.07"/><rect x="302" y="362" width="1" height="26" fill-opacity="0.03"/><rect x="303" y="362" width="1" height="27" fill-opacity="0.06"/><rect x="304" y="387" width="1" height="13" fill-opacity="0.05"/><rect x="304" y="362" width="1" height="25" fill-opacity="0.06"/><rect x="305" y="362" width="1" height="24" fill-opacity="0.07"/><rect x="306" y="385" width="1" height="15" fill-opacity="0.04"/><rect x="306" y="362" width="1" height="23" fill-opacity="0.11"/><rect x="307" y="386" width="1" height="14" fill-opacity="0.02"/><rect x="307" y="362" width="1" height="24" fill-opacity="0.06"/><rect x="308" y="384" width="1" height="16" fill-opacity="0.03"/><rect x="308" y="362" width="1" height="22" fill-opacity="0.05"/><rect x="309" y="385" width="1" height="15" fill-opacity="0.05"/><rect x="309" y="362" width="1" height="23" fill-opacity="0.07"/><rect x="310" y="386" width="1" height="14" fill-opacity="0.05"/><rect x="310" y="362" width="1" height="24" fill-opacity="0.07"/><rect x="311" y="362" width="1" height="23" fill-opacity="0.05"/><rect x="312" y="384" width="1" height="16" fill-opacity="0.07"/><rect x="312" y="362" width="1" height="22" fill-opacity="0.05"/><rect x="313" y="384" width="1" height="16" fill-opacity="0.08"/><rect x="313" y="362" width="1" height="22" fill-opacity="0.02"/><rect x="316" y="386" width="1" height="14" fill-opacity="0.05"/><rect x="317" y="386" width="1" height="14" fill-opacity="0.07"/><rect x="323" y="362" width="1" height="25" fill-opacity="0.01"/><rect x="324" y="362" width="1" height="25" fill-opacity="0.02"/><rect x="325" y="362" width="1" height="25" fill-opacity="0.01"/><rect x="326" y="386" width="1" height="14" fill-opacity="0.07"/><rect x="328" y="387" width="1" height="13" fill-opacity="0.06"/><rect x="329" y="387" width="1" height="13" fill-opacity="0.05"/><rect x="337" y="385" width="1" height="15" fill-opacity="0.04"/><rect x="338" y="387" width="1" height="13" fill-opacity="0.05"/><rect x="339" y="385" width="1" height="15" fill-opacity="0.02"/><rect x="340" y="386" width="1" height="14" fill-opacity="0.06"/><rect x="341" y="386" width="1" height="14" fill-opacity="0.06"/><rect x="342" y="362" width="1" height="24" fill-opacity="0.02"/><rect x="344" y="362" width="1" height="23" fill-opacity="0.07"/><rect x="345" y="362" width="1" height="23" fill-opacity="0.05"/><rect x="346" y="362" width="1" height="24" fill-opacity="0.05"/><rect x="347" y="362" width="1" height="25" fill-opacity="0.06"/><rect x="348" y="362" width="1" height="25" fill-opacity="0.04"/><rect x="349" y="362" width="1" height="26" fill-opacity="0.06"/><rect x="350" y="362" width="1" height="25" fill-opacity="0.06"/><rect x="351" y="362" width="1" height="24" fill-opacity="0.06"/><rect x="353" y="385" width="1" height="15" fill-opacity="0.07"/><rect x="353" y="362" width="1" height="23" fill-opacity="0.03"/><rect x="354" y="385" width="1" height="15" fill-opacity="0.09"/><rect x="354" y="362" width="1" height="23" fill-opacity="0.02"/><rect x="355" y="385" width="1" height="15" fill-opacity="0.12"/><rect x="355" y="362" width="1" height="23" fill-opacity="0.02"/><rect x="356" y="386" width="1" height="14" fill-opacity="0.04"/><rect x="356" y="362" width="1" height="24" fill-opacity="0.04"/><rect x="357" y="387" width="1" height="13" fill-opacity="0.12"/><rect x="357" y="362" width="1" height="25" fill-opacity="0.02"/><rect x="358" y="386" width="1" height="14" fill-opacity="0.02"/><rect x="359" y="386" width="1" height="14" fill-opacity="0.06"/><rect x="361" y="386" width="1" height="14" fill-opacity="0.04"/><rect x="362" y="387" width="1" height="13" fill-opacity="0.02"/><rect x="362" y="362" width="1" height="25" fill-opacity="0.06"/><rect x="363" y="386" width="1" height="14" fill-opacity="0.04"/><rect x="363" y="362" width="1" height="24" fill-opacity="0.05"/><rect x="364" y="362" width="1" height="25" fill-opacity="0.04"/><rect x="365" y="362" width="1" height="26" fill-opacity="0.04"/><rect x="366" y="362" width="1" height="25" fill-opacity="0.02"/><rect x="370" y="362" width="1" height="25" fill-opacity="0.01"/><rect x="371" y="387" width="1" height="13" fill-opacity="0.04"/><rect x="372" y="387" width="1" height="13" fill-opacity="0.04"/><rect x="373" y="386" width="1" height="14" fill-opacity="0.11"/><rect x="374" y="386" width="1" height="14" fill-opacity="0.08"/><rect x="381" y="387" width="1" height="13" fill-opacity="0.05"/><rect x="382" y="386" width="1" height="14" fill-opacity="0.08"/><rect x="383" y="385" width="1" height="15" fill-opacity="0.08"/><rect x="386" y="386" width="1" height="14" fill-opacity="0.02"/><rect x="387" y="386" width="1" height="14" fill-opacity="0.03"/><rect x="391" y="384" width="1" height="16" fill-opacity="0.04"/><rect x="392" y="384" width="1" height="16" fill-opacity="0.02"/><rect x="393" y="384" width="1" height="16" fill-opacity="0.08"/><rect x="394" y="385" width="1" height="15" fill-opacity="0.09"/><rect x="395" y="384" width="1" height="16" fill-opacity="0.14"/><rect x="396" y="385" width="1" height="15" fill-opacity="0.06"/><rect x="401" y="362" width="1" height="23" fill-opacity="0.03"/><rect x="402" y="362" width="1" height="24" fill-opacity="0.03"/><rect x="403" y="362" width="1" height="25" fill-opacity="0.01"/><rect x="404" y="362" width="1" height="24" fill-opacity="0.03"/><rect x="405" y="362" width="1" height="25" fill-opacity="0.05"/><rect x="406" y="387" width="1" height="13" fill-opacity="0.07"/><rect x="406" y="362" width="1" height="25" fill-opacity="0.06"/><rect x="407" y="362" width="1" height="24" fill-opacity="0.07"/><rect x="408" y="362" width="1" height="25" fill-opacity="0.04"/><rect x="409" y="387" width="1" height="13" fill-opacity="0.07"/><rect x="409" y="362" width="1" height="25" fill-opacity="0.04"/><rect x="410" y="387" width="1" height="13" fill-opacity="0.12"/><rect x="410" y="362" width="1" height="25" fill-opacity="0.04"/><rect x="411" y="387" width="1" height="13" fill-opacity="0.10"/><rect x="411" y="362" width="1" height="25" fill-opacity="0.02"/><rect x="412" y="386" width="1" height="14" fill-opacity="0.17"/><rect x="412" y="362" width="1" height="24" fill-opacity="0.03"/><rect x="413" y="386" width="1" height="14" fill-opacity="0.19"/><rect x="413" y="362" width="1" height="24" fill-opacity="0.02"/><rect x="414" y="385" width="1" height="15" fill-opacity="0.22"/><rect x="414" y="362" width="1" height="23" fill-opacity="0.02"/><rect x="415" y="384" width="1" height="16" fill-opacity="0.17"/><rect x="415" y="362" width="1" height="22" fill-opacity="0.04"/><rect x="416" y="384" width="1" height="16" fill-opacity="0.04"/><rect x="416" y="362" width="1" height="22" fill-opacity="0.03"/><rect x="418" y="385" width="1" height="15" fill-opacity="0.09"/><rect x="418" y="362" width="1" height="23" fill-opacity="0.02"/><rect x="420" y="387" width="1" height="13" fill-opacity="0.11"/><rect x="420" y="362" width="1" height="25" fill-opacity="0.01"/><rect x="421" y="387" width="1" height="13" fill-opacity="0.19"/><rect x="422" y="387" width="1" height="13" fill-opacity="0.10"/><rect x="422" y="362" width="1" height="25" fill-opacity="0.02"/><rect x="423" y="386" width="1" height="14" fill-opacity="0.11"/><rect x="424" y="362" width="1" height="24" fill-opacity="0.02"/><rect x="426" y="362" width="1" height="24" fill-opacity="0.03"/><rect x="427" y="362" width="1" height="25" fill-opacity="0.03"/><rect x="428" y="362" width="1" height="25" fill-opacity="0.02"/><rect x="429" y="362" width="1" height="26" fill-opacity="0.02"/><rect x="430" y="362" width="1" height="26" fill-opacity="0.04"/><rect x="431" y="362" width="1" height="26" fill-opacity="0.04"/><rect x="432" y="362" width="1" height="24" fill-opacity="0.02"/><rect x="443" y="385" width="1" height="15" fill-opacity="0.06"/><rect x="443" y="362" width="1" height="23" fill-opacity="0.02"/><rect x="444" y="385" width="1" height="15" fill-opacity="0.04"/><rect x="446" y="384" width="1" height="16" fill-opacity="0.05"/><rect x="454" y="386" width="1" height="14" fill-opacity="0.04"/><rect x="466" y="362" width="1" height="22" fill-opacity="0.05"/><rect x="467" y="362" width="1" height="21" fill-opacity="0.03"/><rect x="469" y="385" width="1" height="15" fill-opacity="0.04"/><rect x="469" y="362" width="1" height="23" fill-opacity="0.02"/><rect x="471" y="386" width="1" height="14" fill-opacity="0.03"/><rect x="471" y="362" width="1" height="24" fill-opacity="0.01"/><rect x="474" y="387" width="1" height="13" fill-opacity="0.03"/><rect x="479" y="362" width="1" height="24" fill-opacity="0.01"/><rect x="481" y="387" width="1" height="13" fill-opacity="0.11"/><rect x="481" y="362" width="1" height="25" fill-opacity="0.02"/><rect x="482" y="387" width="1" height="13" fill-opacity="0.13"/><rect x="483" y="387" width="1" height="13" fill-opacity="0.09"/><rect x="483" y="362" width="1" height="25" fill-opacity="0.02"/><rect x="484" y="385" width="1" height="15" fill-opacity="0.19"/><rect x="484" y="362" width="1" height="23" fill-opacity="0.03"/><rect x="485" y="384" width="1" height="16" fill-opacity="0.16"/><rect x="485" y="362" width="1" height="22" fill-opacity="0.04"/><rect x="486" y="385" width="1" height="15" fill-opacity="0.10"/><rect x="486" y="362" width="1" height="23" fill-opacity="0.04"/><rect x="487" y="384" width="1" height="16" fill-opacity="0.05"/><rect x="487" y="362" width="1" height="22" fill-opacity="0.04"/><rect x="488" y="385" width="1" height="15" fill-opacity="0.11"/><rect x="488" y="362" width="1" height="23" fill-opacity="0.02"/><rect x="489" y="386" width="1" height="14" fill-opacity="0.09"/><rect x="490" y="386" width="1" height="14" fill-opacity="0.04"/><rect x="491" y="385" width="1" height="15" fill-opacity="0.09"/><rect x="492" y="386" width="1" height="14" fill-opacity="0.06"/><rect x="493" y="385" width="1" height="15" fill-opacity="0.03"/><rect x="494" y="362" width="1" height="23" fill-opacity="0.04"/><rect x="497" y="386" width="1" height="14" fill-opacity="0.03"/><rect x="500" y="389" width="1" height="11" fill-opacity="0.02"/><rect x="500" y="362" width="1" height="27" fill-opacity="0.01"/><rect x="502" y="389" width="1" height="11" fill-opacity="0.03"/><rect x="513" y="384" width="1" height="16" fill-opacity="0.09"/><rect x="514" y="384" width="1" height="16" fill-opacity="0.07"/><rect x="524" y="387" width="1" height="13" fill-opacity="0.06"/><rect x="530" y="386" width="1" height="14" fill-opacity="0.03"/><rect x="531" y="387" width="1" height="13" fill-opacity="0.07"/><rect x="532" y="387" width="1" height="13" fill-opacity="0.12"/><rect x="533" y="387" width="1" height="13" fill-opacity="0.16"/><rect x="534" y="388" width="1" height="12" fill-opacity="0.06"/><rect x="535" y="362" width="1" height="25" fill-opacity="0.02"/><rect x="536" y="388" width="1" height="12" fill-opacity="0.04"/><rect x="536" y="362" width="1" height="26" fill-opacity="0.03"/><rect x="537" y="387" width="1" height="13" fill-opacity="0.05"/><rect x="537" y="362" width="1" height="25" fill-opacity="0.01"/><rect x="538" y="362" width="1" height="24" fill-opacity="0.03"/><rect x="539" y="386" width="1" height="14" fill-opacity="0.02"/><rect x="539" y="362" width="1" height="24" fill-opacity="0.02"/><rect x="542" y="362" width="1" height="24" fill-opacity="0.01"/><rect x="543" y="386" width="1" height="14" fill-opacity="0.06"/><rect x="543" y="362" width="1" height="24" fill-opacity="0.03"/><rect x="544" y="387" width="1" height="13" fill-opacity="0.06"/><rect x="544" y="362" width="1" height="25" fill-opacity="0.02"/><rect x="545" y="362" width="1" height="25" fill-opacity="0.02"/><rect x="546" y="387" width="1" height="13" fill-opacity="0.19"/><rect x="546" y="362" width="1" height="25" fill-opacity="0.03"/><rect x="547" y="387" width="1" height="13" fill-opacity="0.07"/><rect x="547" y="362" width="1" height="25" fill-opacity="0.05"/><rect x="548" y="387" width="1" height="13" fill-opacity="0.13"/><rect x="548" y="362" width="1" height="25" fill-opacity="0.04"/><rect x="549" y="386" width="1" height="14" fill-opacity="0.10"/><rect x="549" y="362" width="1" height="24" fill-opacity="0.04"/><rect x="550" y="386" width="1" height="14" fill-opacity="0.10"/><rect x="550" y="362" width="1" height="24" fill-opacity="0.04"/><rect x="552" y="362" width="1" height="26" fill-opacity="0.03"/><rect x="553" y="362" width="1" height="26" fill-opacity="0.02"/><rect x="556" y="387" width="1" height="13" fill-opacity="0.08"/><rect x="557" y="386" width="1" height="14" fill-opacity="0.07"/><rect x="558" y="385" width="1" height="15" fill-opacity="0.02"/><rect x="558" y="362" width="1" height="23" fill-opacity="0.03"/><rect x="559" y="362" width="1" height="23" fill-opacity="0.03"/><rect x="560" y="386" width="1" height="14" fill-opacity="0.06"/><rect x="560" y="362" width="1" height="24" fill-opacity="0.04"/><rect x="561" y="385" width="1" height="15" fill-opacity="0.04"/><rect x="561" y="362" width="1" height="23" fill-opacity="0.03"/><rect x="562" y="384" width="1" height="16" fill-opacity="0.05"/><rect x="562" y="362" width="1" height="22" fill-opacity="0.03"/><rect x="563" y="385" width="1" height="15" fill-opacity="0.04"/><rect x="563" y="362" width="1" height="23" fill-opacity="0.05"/><rect x="564" y="386" width="1" height="14" fill-opacity="0.02"/><rect x="564" y="362" width="1" height="24" fill-opacity="0.01"/><rect x="565" y="362" width="1" height="24" fill-opacity="0.03"/><rect x="568" y="387" width="1" height="13" fill-opacity="0.03"/><rect x="570" y="385" width="1" height="15" fill-opacity="0.06"/><rect x="572" y="385" width="1" height="15" fill-opacity="0.07"/><rect x="573" y="384" width="1" height="16" fill-opacity="0.04"/><rect x="574" y="385" width="1" height="15" fill-opacity="0.07"/><rect x="576" y="384" width="1" height="16" fill-opacity="0.04"/><rect x="578" y="386" width="1" height="14" fill-opacity="0.07"/><rect x="579" y="386" width="1" height="14" fill-opacity="0.04"/><rect x="580" y="387" width="1" height="13" fill-opacity="0.04"/></g>
<g fill="none" stroke="#000" stroke-width="1" stroke-linejoin="miter">
<path d="M120.5 118.5 120.5 134.5 120.5 113.5 120.5 128.5 121.5 128.5 121.5 92.5 121.5 123.5 121.5 108.5 122.5 97.5 122.5 103.5 122.5 128.5 122.5 118.5 122.5 123.5 123.5 97.5 123.5 113.5 123.5 128.5 123.5 103.5 123.5 113.5 124.5 108.5 124.5 103.5 124.5 118.5 124.5 97.5 124.5 103.5 125.5 97.5 125.5 113.5 125.5 118.5 125.5 103.5 126.5 103.5 126.5 108.5 127.5 118.5 127.5 103.5 127.5 108.5 127.5 113.5 127.5 118.5 128.5 118.5 128.5 113.5 128.5 123.5 129.5 118.5 129.5 123.5 129.5 118.5 130.5 123.5 130.5 118.5 130.5 144.5 130.5 139.5 131.5 123.5 131.5 134.5 131.5 128.5 131.5 123.5 132.5 123.5 132.5 144.5 132.5 159.5 133.5 159.5 133.5 154.5 134.5 154.5 134.5 149.5 134.5 165.5 134.5 159.5 135.5 149.5 135.5 165.5 135.5 154.5 136.5 149.5 136.5 159.5 136.5 165.5 137.5 149.5 137.5 144.5 137.5 149.5 137.5 159.5 138.5 144.5 138.5 159.5 138.5 144.5 138.5 139.5 139.5 139.5 139.5 149.5 139.5 144.5 139.5 139.5 139.5 144.5 140.5 149.5 140.5 123.5 140.5 144.5 141.5 139.5 141.5 134.5 141.5 144.5 142.5 134.5 142.5 118.5 142.5 139.5 142.5 144.5 142.5 118.5 143.5 149.5 143.5 134.5 143.5 128.5 143.5 144.5 143.5 139.5 144.5 149.5 144.5 154.5 144.5 144.5 144.5 159.5 145.5 159.5 145.5 165.5 146.5 159.5 146.5 165.5 146.5 159.5 146.5 165.5 147.5 159.5 148.5 165.5 148.5 159.5 149.5 159.5 149.5 134.5 149.5 159.5 150.5 144.5 150.5 134.5 150.5 139.5 150.5 134.5 151.5 87.5 151.5 92.5 151.5 108.5 151.5 123.5 151.5 97.5 152.5 108.5 152.5 134.5 152.5 87.5 152.5 118.5 152.5 113.5 153.5 92.5 153.5 123.5 153.5 108.5 153.5 103.5 154.5 118.5 154.5 123.5 154.5 103.5 154.5 118.5 155.5 118.5 155.5 123.5 155.5 92.5 156.5 108.5 156.5 118.5 156.5 113.5 157.5 97.5 157.5 108.5 157.5 113.5 157.5 97.5 158.5 113.5 158.5 97.5 158.5 108.5 159.5 103.5 159.5 108.5 159.5 103.5 159.5 108.5 159.5 118.5 160.5 118.5 160.5 128.5 161.5 128.5 161.5 134.5 161.5 128.5 161.5 123.5 161.5 128.5 162.5 118.5 162.5 134.5 162.5 128.5 162.5 134.5 163.5 134.5 163.5 144.5 163.5 139.5 164.5 139.5 164.5 149.5 164.5 139.5 164.5 149.5 165.5 144.5 165.5 139.5 165.5 144.5 165.5 139.5 165.5 134.5 166.5 134.5 166.5 159.5 166.5 134.5 166.5 159.5 167.5 144.5 167.5 165.5 167.5 139.5 167.5 144.5 168.5 144.5 168.5 165.5 168.5 144.5 169.5 149.5 169.5 154.5 169.5 165.5 169.5 154.5 170.5 154.5 170.5 165.5 170.5 154.5 170.5 165.5 170.5 149.5 171.5 159.5 171.5 149.5 171.5 159.5 171.5 149.5 172.5 154.5 172.5 159.5 172.5 165.5 172.5 139.5 173.5 144.5 173.5 139.5 173.5 165.5 173.5 144.5 173.5 165.5 174.5 139.5 174.5 159.5 174.5 154.5 174.5 165.5 174.5 159.5 175.5 139.5 175.5 154.5 175.5 134.5 175.5 154.5 176.5 154.5 176.5 159.5 176.5 165.5 176.5 149.5 177.5 154.5 177.5 144.5 177.5 134.5 177.5 139.5 178.5 139.5 178.5 154.5 178.5 134.5 178.5 149.5 179.5 154.5 179.5 144.5 179.5 165.5 179.5 144.5 179.5 159.5 180.5 159.5 180.5 149.5 180.5 118.5 180.5 154.5 181.5 144.5 181.5 149.5 181.5 113.5 181.5 82.5 182.5 103.5 182.5 113.5 182.5 82.5 182.5 97.5 182.5 87.5 183.5 103.5 183.5 97.5 183.5 113.5 184.5 108.5 184.5 103.5 184.5 97.5 184.5 103.5 184.5 97.5 185.5 113.5 185.5 108.5 185.5 103.5 186.5 118.5 186.5 108.5 187.5 118.5 187.5 108.5 187.5 103.5 187.5 118.5 187.5 128.5 188.5 118.5 188.5 113.5 188.5 118.5 189.5 128.5 189.5 139.5 189.5 149.5 190.5 144.5 190.5 154.5 190.5 139.5 191.5 149.5 191.5 154.5 191.5 149.5 191.5 144.5 192.5 149.5 192.5 159.5 192.5 165.5 192.5 149.5 193.5 149.5 193.5 165.5 193.5 159.5 193.5 154.5 194.5 159.5 194.5 149.5 195.5 159.5 195.5 154.5 195.5 149.5 195.5 159.5 195.5 165.5 196.5 149.5 196.5 159.5 196.5 154.5 196.5 159.5 196.5 139.5 197.5 139.5 197.5 134.5 197.5 154.5 197.5 159.5 198.5 159.5 198.5 154.5 198.5 159.5 198.5 154.5 198.5 134.5 199.5 139.5 199.5 149.5 199.5 123.5 199.5 128.5 199.5 123.5 200.5 144.5 200.5 139.5 200.5 128.5 200.5 139.5 200.5 144.5 201.5 144.5 201.5 139.5 201.5 128.5 201.5 134.5 201.5 144.5 202.5 113.5 202.5 108.5 202.5 118.5 202.5 113.5 202.5 108.5 203.5 113.5 203.5 118.5 203.5 134.5 203.5 128.5 203.5 134.5 204.5 134.5 204.5 128.5 204.5 123.5 205.5 128.5 205.5 123.5 205.5 134.5 205.5 139.5 205.5 123.5 206.5 123.5 206.5 154.5 206.5 144.5 206.5 149.5 207.5 139.5 207.5 159.5 207.5 154.5 207.5 144.5 207.5 159.5 208.5 144.5 208.5 154.5 208.5 144.5 208.5 159.5 208.5 154.5 209.5 149.5 209.5 159.5 209.5 154.5 209.5 159.5 210.5 154.5 210.5 139.5 210.5 144.5 210.5 139.5 211.5 165.5 211.5 159.5 211.5 149.5 212.5 154.5 212.5 159.5 212.5 118.5 212.5 134.5 213.5 123.5 213.5 128.5 213.5 118.5 214.5 139.5 214.5 123.5 214.5 103.5 214.5 118.5 214.5 113.5 215.5 123.5 215.5 118.5 215.5 128.5 215.5 108.5 215.5 134.5 216.5 118.5 216.5 87.5 216.5 97.5 216.5 92.5 216.5 103.5 217.5 103.5 217.5 82.5 217.5 118.5 217.5 97.5 217.5 103.5 218.5 103.5 218.5 108.5 218.5 118.5 218.5 108.5 219.5 118.5 219.5 103.5 219.5 123.5 219.5 118.5 220.5 118.5 220.5 123.5 220.5 134.5 221.5 118.5 221.5 128.5 221.5 118.5 222.5 123.5 222.5 128.5 222.5 134.5 222.5 118.5 222.5 144.5 223.5 139.5 223.5 149.5 223.5 128.5 223.5 123.5 224.5 128.5 224.5 139.5 224.5 134.5 224.5 123.5 224.5 118.5 225.5 144.5 225.5 149.5 225.5 139.5 225.5 144.5 226.5 139.5 226.5 144.5 226.5 139.5 226.5 144.5 227.5 149.5 227.5 144.5 227.5 149.5 227.5 159.5 228.5 149.5 228.5 159.5 228.5 165.5 228.5 139.5 229.5 139.5 229.5 144.5 229.5 165.5 229.5 149.5 230.5 139.5 230.5 144.5 230.5 154.5 230.5 165.5 231.5 165.5 231.5 149.5 231.5 159.5 231.5 154.5 232.5 159.5 232.5 165.5 232.5 159.5 233.5 154.5 233.5 159.5 233.5 149.5 233.5 154.5 234.5 154.5 234.5 159.5 234.5 144.5 235.5 149.5 235.5 144.5 235.5 149.5 235.5 144.5 235.5 149.5 236.5 159.5 236.5 149.5 236.5 154.5 236.5 149.5 237.5 149.5 237.5 154.5 237.5 134.5 237.5 165.5 238.5 159.5 238.5 165.5 238.5 159.5 238.5 144.5 239.5 149.5 239.5 154.5 239.5 144.5 239.5 154.5 239.5 165.5 240.5 154.5 240.5 165.5 240.5 149.5 240.5 144.5 241.5 165.5 241.5 144.5 241.5 159.5 241.5 165.5 241.5 159.5 242.5 159.5 242.5 113.5 242.5 118.5 242.5 165.5 242.5 144.5 243.5 165.5 243.5 144.5 243.5 113.5 243.5 123.5 243.5 165.5 244.5 123.5 244.5 134.5 244.5 144.5 244.5 139.5 244.5 118.5 245.5 139.5 245.5 144.5 245.5 123.5 245.5 144.5 246.5 139.5 246.5 108.5 246.5 103.5 246.5 97.5 247.5 108.5 247.5 97.5 247.5 108.5 247.5 103.5 248.5 97.5 248.5 103.5 248.5 108.5 248.5 103.5 248.5 108.5 249.5 108.5 249.5 97.5 249.5 108.5 249.5 123.5 250.5 123.5 250.5 134.5 250.5 128.5 250.5 123.5 251.5 128.5 251.5 134.5 251.5 123.5 251.5 134.5 251.5 149.5 252.5 149.5 252.5 134.5 252.5 144.5 252.5 139.5 253.5 149.5 253.5 144.5 253.5 154.5 253.5 144.5 254.5 139.5 254.5 144.5 254.5 154.5 254.5 165.5 255.5 165.5 255.5 149.5 255.5 154.5 256.5 154.5 256.5 144.5 256.5 149.5 256.5 154.5 256.5 165.5 257.5 159.5 257.5 154.5 257.5 165.5 257.5 154.5 258.5 134.5 258.5 144.5 258.5 149.5 258.5 154.5 259.5 149.5 259.5 134.5 259.5 144.5 259.5 113.5 259.5 92.5 260.5 108.5 260.5 123.5 260.5 118.5 260.5 113.5 261.5 118.5 261.5 123.5 261.5 128.5 261.5 108.5 261.5 113.5 262.5 118.5 262.5 108.5 262.5 118.5 263.5 128.5 263.5 123.5 263.5 128.5 263.5 123.5 264.5 118.5 264.5 123.5 264.5 118.5 264.5 123.5 265.5 139.5 265.5 134.5 265.5 139.5 265.5 134.5 266.5 113.5 266.5 123.5 266.5 149.5 267.5 154.5 267.5 159.5 267.5 149.5 268.5 159.5 268.5 154.5 268.5 165.5 269.5 159.5 269.5 144.5 269.5 134.5 269.5 144.5 270.5 159.5 270.5 144.5 270.5 134.5 271.5 139.5 271.5 149.5 271.5 154.5 271.5 144.5 271.5 149.5 272.5 159.5 272.5 139.5 273.5 134.5 273.5 149.5 273.5 144.5 273.5 134.5 273.5 144.5 274.5 134.5 274.5 123.5 274.5 149.5 274.5 123.5 274.5 134.5 275.5 123.5 275.5 97.5 276.5 92.5 276.5 108.5 276.5 92.5 276.5 87.5 276.5 113.5 277.5 113.5 277.5 128.5 277.5 113.5 277.5 118.5 277.5 128.5 278.5 134.5 278.5 118.5 278.5 113.5 278.5 134.5 278.5 123.5 279.5 113.5 279.5 123.5 279.5 118.5 279.5 134.5 279.5 139.5 280.5 103.5 280.5 139.5 280.5 113.5 281.5 134.5 281.5 128.5 281.5 118.5 282.5 123.5 282.5 118.5 282.5 108.5 282.5 113.5 282.5 139.5 283.5 144.5 283.5 149.5 283.5 134.5 283.5 128.5 283.5 144.5 284.5 144.5 284.5 123.5 284.5 134.5 284.5 123.5 284.5 139.5 285.5 154.5 285.5 149.5 285.5 154.5 285.5 139.5 286.5 154.5 286.5 149.5 286.5 144.5 286.5 139.5 286.5 154.5 287.5 139.5 287.5 149.5 288.5 149.5 288.5 154.5 288.5 159.5 289.5 154.5 289.5 159.5 289.5 165.5 290.5 165.5 290.5 159.5 290.5 154.5 290.5 149.5 290.5 154.5 291.5 165.5 291.5 154.5 291.5 165.5 292.5 154.5 292.5 165.5 292.5 154.5 292.5 159.5 293.5 165.5 293.5 159.5 293.5 154.5 294.5 154.5 294.5 159.5 294.5 165.5 294.5 159.5 294.5 154.5 295.5 154.5 295.5 144.5 295.5 154.5 295.5 159.5 295.5 165.5 296.5 149.5 296.5 154.5 296.5 165.5 296.5 149.5 297.5 159.5 297.5 144.5 297.5 149.5 297.5 144.5 298.5 149.5 298.5 113.5 298.5 123.5 298.5 128.5 299.5 103.5 299.5 149.5 299.5 139.5 299.5 118.5 300.5 144.5 300.5 139.5 300.5 144.5 300.5 139.5 301.5 92.5 301.5 123.5 301.5 113.5 301.5 123.5 301.5 139.5 302.5 118.5 302.5 144.5 302.5 108.5 303.5 139.5 303.5 149.5 303.5 144.5 304.5 123.5 304.5 134.5 304.5 128.5 304.5 118.5 304.5 123.5 305.5 103.5 305.5 97.5 305.5 108.5 305.5 139.5 306.5 103.5 306.5 139.5 306.5 113.5 306.5 128.5 306.5 139.5 307.5 134.5 307.5 144.5 307.5 123.5 307.5 134.5 307.5 123.5 308.5 118.5 308.5 139.5 308.5 123.5 308.5 118.5 309.5 118.5 309.5 144.5 309.5 118.5 309.5 149.5 309.5 159.5 310.5 165.5 310.5 159.5 310.5 165.5 310.5 144.5 310.5 159.5 311.5 154.5 311.5 165.5 311.5 159.5 311.5 165.5 311.5 154.5 312.5 154.5 312.5 123.5 312.5 149.5 312.5 144.5 313.5 154.5 313.5 134.5 313.5 154.5 313.5 123.5 313.5 134.5 314.5 128.5 314.5 144.5 314.5 154.5 314.5 159.5 315.5 165.5 315.5 159.5 315.5 149.5 316.5 144.5 316.5 159.5 316.5 154.5 316.5 159.5 316.5 154.5 317.5 149.5 317.5 113.5 317.5 87.5 317.5 92.5 318.5 97.5 318.5 87.5 318.5 103.5 318.5 113.5 318.5 87.5 319.5 87.5 319.5 92.5 319.5 87.5 319.5 97.5 320.5 97.5 320.5 113.5 320.5 103.5 321.5 108.5 321.5 128.5 321.5 123.5 321.5 134.5 322.5 139.5 322.5 128.5 322.5 134.5 322.5 113.5 322.5 118.5 323.5 134.5 323.5 118.5 323.5 128.5 324.5 128.5 324.5 139.5 324.5 113.5 324.5 139.5 325.5 144.5 325.5 134.5 325.5 144.5 325.5 139.5 326.5 144.5 326.5 134.5 326.5 139.5 326.5 134.5 326.5 139.5 327.5 134.5 327.5 139.5 327.5 144.5 327.5 139.5 328.5 139.5 328.5 144.5 328.5 149.5 328.5 144.5 329.5 139.5 329.5 149.5 329.5 139.5 329.5 154.5 330.5 165.5 330.5 144.5 330.5 154.5 330.5 165.5 331.5 123.5 331.5 128.5 331.5 139.5 331.5 154.5 331.5 159.5 332.5 149.5 332.5 139.5 332.5 144.5 333.5 154.5 333.5 139.5 333.5 149.5 333.5 159.5 333.5 154.5 334.5 149.5 334.5 139.5 334.5 108.5 334.5 134.5 335.5 108.5 335.5 159.5 335.5 113.5 335.5 118.5 336.5 108.5 336.5 154.5 336.5 144.5 336.5 154.5 336.5 139.5 337.5 149.5 337.5 123.5 337.5 144.5 337.5 149.5 337.5 165.5 338.5 128.5 338.5 134.5 338.5 144.5 338.5 154.5 338.5 139.5 339.5 139.5 339.5 159.5 339.5 134.5 339.5 165.5 339.5 144.5 340.5 139.5 340.5 149.5 340.5 134.5 340.5 118.5 340.5 139.5 341.5 144.5 341.5 139.5 341.5 128.5 341.5 144.5 342.5 144.5 342.5 139.5 342.5 108.5 342.5 113.5 342.5 108.5 343.5 144.5 343.5 123.5 343.5 128.5 343.5 118.5 343.5 134.5 344.5 108.5 344.5 144.5 344.5 159.5 344.5 165.5 344.5 154.5 345.5 154.5 345.5 159.5 345.5 165.5 345.5 159.5 346.5 159.5 346.5 144.5 346.5 159.5 346.5 165.5 346.5 134.5 347.5 165.5 347.5 144.5 347.5 149.5 347.5 128.5 347.5 159.5 348.5 159.5 348.5 149.5 348.5 139.5 348.5 134.5 348.5 149.5 349.5 144.5 349.5 134.5 349.5 165.5 349.5 159.5 350.5 154.5 350.5 144.5 350.5 159.5 350.5 165.5 350.5 159.5 351.5 159.5 351.5 165.5 351.5 149.5 352.5 144.5 352.5 154.5 352.5 165.5 352.5 154.5 352.5 134.5 353.5 123.5 353.5 118.5 353.5 123.5 353.5 144.5 353.5 139.5 354.5 144.5 354.5 139.5 354.5 144.5 354.5 113.5 355.5 118.5 355.5 123.5 355.5 134.5 355.5 144.5 356.5 123.5 356.5 128.5 356.5 154.5 356.5 149.5 356.5 154.5 357.5 149.5 357.5 134.5 357.5 123.5 358.5 123.5 358.5 134.5 358.5 128.5 358.5 154.5 358.5 139.5 359.5 123.5 359.5 154.5 359.5 134.5 359.5 139.5 359.5 123.5 360.5 154.5 360.5 165.5 360.5 154.5 360.5 159.5 360.5 144.5 361.5 165.5 361.5 154.5 361.5 144.5 361.5 159.5 361.5 165.5 362.5 159.5 362.5 154.5 362.5 165.5 362.5 134.5 363.5 139.5 363.5 149.5 363.5 159.5 363.5 154.5 364.5 149.5 364.5 123.5 364.5 159.5 364.5 123.5 364.5 134.5 365.5 123.5 365.5 139.5 365.5 118.5 365.5 113.5 365.5 92.5 366.5 108.5 366.5 87.5 366.5 134.5 366.5 144.5 367.5 154.5 367.5 139.5 367.5 144.5 367.5 139.5 368.5 139.5 368.5 149.5 368.5 154.5 368.5 144.5 369.5 139.5 369.5 134.5 369.5 154.5 369.5 144.5 370.5 139.5 370.5 149.5 370.5 134.5 370.5 149.5 370.5 139.5 371.5 139.5 371.5 134.5 371.5 149.5 371.5 144.5 371.5 149.5 372.5 159.5 372.5 134.5 372.5 144.5 372.5 134.5 372.5 149.5 373.5 144.5 373.5 123.5 373.5 128.5 374.5 134.5 374.5 123.5 374.5 134.5 374.5 144.5 375.5 149.5 375.5 154.5 375.5 149.5 375.5 144.5 375.5 108.5 376.5 87.5 376.5 118.5 376.5 92.5 376.5 118.5 376.5 123.5 377.5 103.5 377.5 108.5 377.5 113.5 377.5 103.5 378.5 103.5 378.5 92.5 378.5 97.5 378.5 113.5 379.5 97.5 379.5 103.5 379.5 92.5 379.5 97.5 380.5 108.5 380.5 128.5 380.5 123.5 380.5 108.5 380.5 103.5 381.5 103.5 381.5 97.5 381.5 108.5 382.5 97.5 382.5 108.5 382.5 103.5 382.5 108.5 382.5 134.5 383.5 139.5 383.5 144.5 383.5 128.5 383.5 144.5 384.5 144.5 384.5 139.5 384.5 123.5 384.5 128.5 385.5 128.5 385.5 144.5 385.5 139.5 385.5 165.5 385.5 144.5 386.5 159.5 386.5 154.5 386.5 149.5 386.5 144.5 386.5 139.5 387.5 165.5 387.5 139.5 387.5 154.5 387.5 159.5 387.5 154.5 388.5 154.5 388.5 165.5 388.5 154.5 388.5 159.5 389.5 154.5 389.5 159.5 389.5 154.5 389.5 149.5 390.5 154.5 390.5 149.5 390.5 159.5 390.5 149.5 391.5 149.5 391.5 159.5 391.5 154.5 392.5 165.5 392.5 159.5 393.5 165.5 393.5 154.5 393.5 149.5 393.5 165.5 394.5 154.5 394.5 149.5 394.5 165.5 394.5 154.5 395.5 159.5 395.5 165.5 395.5 149.5 395.5 159.5 396.5 154.5 396.5 134.5 396.5 149.5 396.5 144.5 396.5 139.5 397.5 159.5 397.5 139.5 397.5 128.5 398.5 92.5 398.5 113.5 398.5 103.5 399.5 128.5 399.5 87.5 399.5 118.5 399.5 123.5 400.5 103.5 400.5 139.5 400.5 134.5 401.5 113.5 401.5 108.5 401.5 118.5 402.5 113.5 402.5 134.5 402.5 128.5 402.5 134.5 403.5 128.5 403.5 144.5 403.5 139.5 403.5 134.5 403.5 128.5 404.5 134.5 404.5 149.5 404.5 139.5 404.5 149.5 405.5 159.5 405.5 139.5 405.5 165.5 405.5 139.5 405.5 128.5 406.5 144.5 406.5 134.5 406.5 128.5 406.5 159.5 406.5 165.5 407.5 154.5 407.5 165.5 407.5 154.5 407.5 149.5 407.5 159.5 408.5 159.5 408.5 149.5 408.5 159.5 408.5 165.5 409.5 159.5 409.5 154.5 409.5 149.5 409.5 154.5 410.5 159.5 410.5 154.5 410.5 159.5 411.5 154.5 411.5 149.5 411.5 165.5 412.5 165.5 412.5 149.5 412.5 159.5 412.5 154.5 413.5 144.5 413.5 159.5 413.5 154.5 414.5 165.5 414.5 159.5 415.5 159.5 415.5 165.5 415.5 144.5 415.5 159.5 416.5 154.5 416.5 159.5 416.5 165.5 416.5 154.5 417.5 159.5 417.5 149.5 417.5 154.5 417.5 149.5 417.5 144.5 418.5 149.5 418.5 154.5 418.5 159.5 418.5 144.5 419.5 165.5 419.5 154.5 419.5 139.5 419.5 144.5 420.5 134.5 420.5 123.5 420.5 139.5 420.5 159.5 421.5 149.5 421.5 139.5 421.5 144.5 421.5 134.5 421.5 139.5 422.5 118.5 422.5 108.5 422.5 97.5 422.5 128.5 423.5 128.5 423.5 113.5 423.5 123.5 424.5 118.5 424.5 128.5 424.5 134.5 424.5 118.5 424.5 113.5 425.5 128.5 425.5 118.5 425.5 128.5 425.5 134.5 425.5 113.5 426.5 134.5 426.5 149.5 426.5 128.5 426.5 144.5 427.5 139.5 427.5 144.5 427.5 149.5 427.5 159.5 428.5 165.5 428.5 139.5 428.5 154.5 428.5 134.5 428.5 128.5 429.5 134.5 429.5 123.5 429.5 149.5 429.5 118.5 429.5 128.5 430.5 139.5 430.5 123.5 430.5 139.5 430.5 123.5 430.5 118.5 431.5 123.5 431.5 139.5 431.5 128.5 431.5 82.5 432.5 92.5 432.5 82.5 432.5 87.5 432.5 108.5 433.5 103.5 433.5 97.5 433.5 92.5 434.5 97.5 434.5 134.5 434.5 139.5 434.5 103.5 434.5 134.5 435.5 139.5 435.5 134.5 435.5 92.5 436.5 123.5 436.5 139.5 436.5 123.5 436.5 108.5 437.5 103.5 437.5 128.5 437.5 108.5 437.5 103.5 437.5 128.5 438.5 118.5 438.5 113.5 438.5 108.5 438.5 103.5 439.5 134.5 439.5 118.5 439.5 123.5 439.5 128.5 439.5 134.5 440.5 118.5 440.5 134.5 440.5 128.5 440.5 134.5 440.5 123.5 441.5 118.5 441.5 123.5 441.5 118.5 441.5 123.5 442.5 128.5 442.5 118.5 442.5 134.5 442.5 123.5 442.5 139.5 443.5 159.5 443.5 154.5 443.5 165.5 444.5 149.5 444.5 139.5 444.5 144.5 445.5 144.5 445.5 154.5 445.5 159.5 445.5 139.5 446.5 144.5 446.5 139.5 446.5 154.5 447.5 144.5 447.5 139.5 447.5 149.5 447.5 159.5 448.5 154.5 448.5 149.5 448.5 139.5 448.5 149.5 449.5 149.5 449.5 154.5 449.5 159.5 450.5 149.5 450.5 159.5 450.5 144.5 450.5 159.5 450.5 149.5 451.5 149.5 451.5 144.5 451.5 139.5 451.5 128.5 451.5 154.5 452.5 144.5 452.5 149.5 452.5 134.5 452.5 139.5 452.5 149.5 453.5 149.5 453.5 139.5 453.5 154.5 453.5 149.5 454.5 149.5 455.5 149.5 455.5 139.5 455.5 134.5 455.5 139.5 456.5 139.5 456.5 134.5 456.5 144.5 456.5 134.5 457.5 103.5 457.5 113.5 457.5 108.5 457.5 128.5 458.5 139.5 458.5 134.5 458.5 149.5 458.5 159.5 459.5 149.5 459.5 154.5 459.5 149.5 459.5 159.5 460.5 154.5 460.5 159.5 460.5 165.5 460.5 149.5 460.5 154.5 461.5 154.5 461.5 149.5 461.5 154.5 462.5 149.5 462.5 154.5 463.5 159.5 463.5 154.5 463.5 149.5 463.5 154.5 464.5 165.5 464.5 149.5 464.5 154.5 464.5 159.5 465.5 154.5 465.5 159.5 465.5 165.5 465.5 154.5 465.5 134.5 466.5 123.5 466.5 144.5 466.5 139.5 466.5 149.5 466.5 134.5 467.5 134.5 467.5 139.5 467.5 154.5 468.5 149.5 468.5 144.5 468.5 118.5 469.5 123.5 469.5 134.5 469.5 118.5 469.5 144.5 470.5 144.5 470.5 123.5 470.5 134.5 470.5 128.5 470.5 144.5 471.5 134.5 471.5 139.5 471.5 128.5 471.5 134.5 471.5 123.5 472.5 139.5 472.5 144.5 472.5 139.5 472.5 134.5 472.5 149.5 473.5 149.5 473.5 159.5 473.5 149.5 473.5 154.5 474.5 154.5 474.5 149.5 474.5 165.5 474.5 149.5 475.5 149.5 475.5 159.5 475.5 154.5 475.5 159.5 475.5 154.5 476.5 149.5 476.5 159.5 476.5 149.5 476.5 154.5 476.5 159.5 477.5 159.5 477.5 149.5 477.5 154.5 477.5 149.5 477.5 159.5 478.5 113.5 478.5 149.5 478.5 113.5 478.5 144.5 479.5 139.5 479.5 144.5 479.5 123.5 479.5 128.5 479.5 123.5 480.5 97.5 480.5 113.5 480.5 123.5 480.5 103.5 481.5 113.5 481.5 118.5 481.5 123.5 481.5 103.5 481.5 113.5 482.5 159.5 482.5 128.5 482.5 139.5 482.5 134.5 482.5 128.5 483.5 134.5 483.5 154.5 483.5 128.5 483.5 139.5 484.5 144.5 484.5 154.5 484.5 144.5 484.5 139.5 484.5 144.5 485.5 149.5 485.5 144.5 485.5 149.5 485.5 154.5 485.5 134.5 486.5 128.5 486.5 134.5 486.5 149.5 487.5 139.5 487.5 144.5 487.5 149.5 487.5 139.5 487.5 134.5 488.5 139.5 488.5 134.5 488.5 154.5 488.5 149.5 488.5 154.5 489.5 154.5 489.5 149.5 489.5 154.5 489.5 139.5 489.5 149.5 490.5 149.5 490.5 154.5 490.5 149.5 490.5 154.5 491.5 144.5 491.5 139.5 491.5 144.5 491.5 149.5 492.5 128.5 492.5 134.5 492.5 139.5 492.5 149.5 493.5 139.5 493.5 154.5 493.5 149.5 493.5 154.5 494.5 154.5 494.5 159.5 494.5 149.5 494.5 139.5 495.5 139.5 495.5 159.5 495.5 154.5 495.5 123.5 496.5 134.5 496.5 103.5 496.5 134.5 496.5 123.5 496.5 118.5 497.5 128.5 497.5 123.5 498.5 128.5 498.5 118.5 498.5 128.5 498.5 139.5 498.5 134.5 499.5 128.5 499.5 134.5 499.5 128.5 499.5 139.5 500.5 134.5 500.5 128.5 500.5 134.5 500.5 128.5 500.5 139.5 501.5 134.5 501.5 128.5 501.5 139.5 502.5 149.5 502.5 144.5 502.5 139.5 503.5 144.5 503.5 149.5 503.5 144.5 503.5 139.5 503.5 149.5 504.5 144.5 504.5 134.5 504.5 149.5 504.5 139.5 504.5 134.5 505.5 144.5 505.5 134.5 505.5 144.5 505.5 159.5 505.5 165.5 506.5 144.5 506.5 159.5 506.5 144.5 507.5 149.5 507.5 159.5 507.5 165.5 507.5 154.5 507.5 165.5 508.5 165.5 508.5 159.5 508.5 144.5 508.5 154.5 508.5 144.5 509.5 149.5 509.5 139.5 509.5 144.5 510.5 149.5 510.5 134.5 510.5 149.5 510.5 139.5 510.5 159.5 511.5 149.5 511.5 139.5 511.5 144.5 511.5 139.5 511.5 159.5 512.5 144.5 512.5 149.5 512.5 144.5 512.5 139.5 513.5 134.5 513.5 144.5 513.5 134.5 513.5 149.5 514.5 149.5 514.5 154.5 514.5 123.5 514.5 134.5 514.5 103.5 515.5 103.5 515.5 139.5 516.5 108.5 516.5 144.5 516.5 159.5 517.5 159.5 517.5 154.5 517.5 144.5 517.5 154.5 517.5 159.5 518.5 154.5 518.5 149.5 518.5 159.5 518.5 154.5 518.5 144.5 519.5 149.5 519.5 154.5 519.5 149.5 519.5 154.5 520.5 159.5 520.5 144.5 520.5 149.5 521.5 154.5 521.5 159.5 521.5 154.5 521.5 159.5 521.5 144.5 522.5 154.5 522.5 159.5 522.5 128.5 522.5 118.5 523.5 139.5 523.5 113.5 523.5 108.5 524.5 123.5 524.5 97.5 524.5 108.5 524.5 118.5 525.5 97.5 525.5 108.5 525.5 97.5 525.5 123.5 526.5 123.5 526.5 139.5 526.5 144.5 526.5 149.5 527.5 149.5 527.5 139.5 527.5 149.5 527.5 144.5 528.5 139.5 528.5 149.5 528.5 139.5 528.5 144.5 529.5 149.5 529.5 144.5 529.5 149.5 529.5 144.5 530.5 139.5 530.5 149.5 530.5 139.5 531.5 139.5 531.5 149.5 531.5 139.5 531.5 149.5 531.5 139.5 532.5 139.5 532.5 144.5 532.5 149.5 532.5 144.5 532.5 139.5 533.5 159.5 533.5 154.5 533.5 165.5 533.5 154.5 533.5 165.5 534.5 149.5 534.5 165.5 534.5 154.5 534.5 149.5 534.5 159.5 535.5 149.5 535.5 159.5 536.5 159.5 536.5 165.5 536.5 159.5 537.5 154.5 537.5 165.5 537.5 149.5 537.5 159.5 537.5 165.5 538.5 159.5 538.5 149.5 538.5 159.5 538.5 165.5 538.5 159.5 539.5 134.5 539.5 144.5 539.5 154.5 539.5 113.5 539.5 159.5 540.5 139.5 540.5 123.5 540.5 108.5 540.5 118.5 540.5 87.5 541.5 128.5 541.5 144.5 541.5 139.5 542.5 128.5 542.5 144.5 543.5 134.5 543.5 128.5 543.5 159.5 544.5 139.5 544.5 154.5 544.5 144.5 544.5 159.5 544.5 154.5 545.5 159.5 545.5 149.5 545.5 139.5 545.5 128.5 545.5 113.5 546.5 123.5 546.5 118.5 546.5 149.5 546.5 128.5 546.5 123.5 547.5 113.5 547.5 103.5 547.5 108.5 547.5 82.5 547.5 103.5 548.5 113.5 548.5 82.5 548.5 144.5 548.5 149.5 548.5 144.5 549.5 144.5 549.5 139.5 550.5 149.5 550.5 139.5 550.5 149.5 550.5 139.5 551.5 159.5 551.5 149.5 551.5 159.5 552.5 154.5 552.5 149.5 552.5 159.5 552.5 149.5 552.5 154.5 553.5 144.5 553.5 154.5 553.5 159.5 553.5 149.5 554.5 154.5 554.5 144.5 554.5 159.5 555.5 149.5 555.5 159.5 555.5 154.5 555.5 165.5 556.5 154.5 556.5 159.5 556.5 165.5 556.5 159.5 557.5 159.5 557.5 165.5 557.5 154.5 558.5 159.5 558.5 165.5 559.5 139.5 559.5 108.5 559.5 103.5 559.5 128.5 559.5 134.5 560.5 134.5 560.5 118.5 560.5 103.5 560.5 108.5 560.5 139.5 561.5 123.5 561.5 118.5 561.5 113.5 561.5 139.5 561.5 123.5 562.5 118.5 562.5 128.5 562.5 139.5 562.5 118.5 562.5 108.5 563.5 108.5 563.5 144.5 563.5 128.5 563.5 149.5 564.5 139.5 564.5 149.5 564.5 144.5 564.5 149.5 565.5 128.5 565.5 149.5 565.5 165.5 565.5 159.5 565.5 149.5 566.5 159.5 566.5 165.5 566.5 159.5 566.5 144.5 566.5 159.5 567.5 154.5 567.5 165.5 567.5 154.5 567.5 149.5 568.5 159.5 568.5 165.5 568.5 159.5 568.5 144.5 569.5 149.5 569.5 159.5 569.5 165.5 569.5 154.5 569.5 149.5 570.5 165.5 570.5 159.5 570.5 154.5 570.5 149.5 570.5 154.5 571.5 159.5 571.5 154.5 571.5 144.5 571.5 159.5 571.5 149.5 572.5 149.5 572.5 144.5 572.5 149.5 573.5 149.5 573.5 128.5 573.5 113.5 573.5 149.5 573.5 108.5 574.5 108.5 574.5 149.5 575.5 144.5 575.5 154.5 575.5 139.5 576.5 159.5 576.5 139.5 576.5 149.5 576.5 139.5 576.5 159.5 577.5 134.5 577.5 139.5 577.5 108.5 577.5 118.5 578.5 118.5 578.5 123.5 578.5 118.5 578.5 123.5 578.5 108.5 579.5 128.5 579.5 134.5 579.5 123.5 579.5 118.5 580.5 113.5 580.5 128.5 580.5 123.5 580.5 108.5 580.5 134.5"/>
<path d="M120.5 213.5 120.5 215.5 120.5 212.5 120.5 217.5 120.5 215.5 120.5 219.5 120.5 214.5 120.5 213.5 120.5 210.5 120.5 212.5 121.5 213.5 121.5 215.5 121.5 214.5 121.5 217.5 121.5 219.5 121.5 218.5 121.5 219.5 121.5 222.5 121.5 218.5 121.5 221.5 121.5 225.5 122.5 227.5 122.5 230.5 122.5 232.5 122.5 234.5 122.5 228.5 122.5 230.5 122.5 229.5 122.5 226.5 122.5 229.5 122.5 231.5 123.5 226.5 123.5 232.5 123.5 233.5 123.5 231.5 123.5 226.5 123.5 231.5 123.5 237.5 123.5 233.5 123.5 234.5 123.5 232.5 124.5 232.5 124.5 231.5 124.5 233.5 124.5 230.5 124.5 227.5 124.5 229.5 124.5 231.5 124.5 230.5 124.5 233.5 124.5 234.5 125.5 231.5 125.5 232.5 125.5 233.5 125.5 232.5 125.5 237.5 125.5 231.5 125.5 234.5 125.5 231.5 126.5 231.5 126.5 229.5 126.5 226.5 126.5 227.5 126.5 226.5 126.5 223.5 126.5 229.5 126.5 232.5 126.5 230.5 126.5 235.5 127.5 235.5 127.5 231.5 127.5 229.5 127.5 235.5 127.5 229.5 127.5 234.5 128.5 237.5 128.5 238.5 128.5 231.5 128.5 234.5 128.5 232.5 128.5 231.5 128.5 234.5 128.5 241.5 129.5 237.5 129.5 234.5 129.5 231.5 129.5 232.5 129.5 233.5 129.5 232.5 129.5 235.5 129.5 236.5 129.5 237.5 129.5 234.5 129.5 228.5 130.5 228.5 130.5 227.5 130.5 228.5 130.5 229.5 130.5 231.5 130.5 232.5 130.5 237.5 130.5 238.5 130.5 233.5 130.5 231.5 131.5 228.5 131.5 226.5 131.5 229.5 131.5 227.5 131.5 224.5 131.5 227.5 131.5 226.5 131.5 228.5 131.5 232.5 131.5 231.5 131.5 232.5 132.5 231.5 132.5 232.5 132.5 230.5 132.5 235.5 132.5 228.5 132.5 225.5 132.5 228.5 132.5 230.5 132.5 228.5 132.5 227.5 133.5 227.5 133.5 232.5 133.5 233.5 133.5 228.5 133.5 227.5 133.5 231.5 133.5 232.5 133.5 233.5 133.5 228.5 134.5 225.5 134.5 226.5 134.5 230.5 134.5 223.5 134.5 226.5 134.5 229.5 134.5 225.5 134.5 226.5 134.5 222.5 135.5 228.5 135.5 226.5 135.5 228.5 135.5 230.5 135.5 226.5 135.5 230.5 135.5 225.5 135.5 222.5 136.5 226.5 136.5 220.5 136.5 222.5 136.5 226.5 136.5 225.5 136.5 223.5 136.5 220.5 136.5 219.5 136.5 222.5 136.5 224.5 136.5 227.5 137.5 226.5 137.5 212.5 137.5 222.5 137.5 226.5 137.5 227.5 137.5 228.5 137.5 229.5 137.5 225.5 138.5 224.5 138.5 226.5 138.5 223.5 138.5 222.5 138.5 219.5 138.5 221.5 138.5 222.5 138.5 224.5 138.5 223.5 139.5 224.5 139.5 223.5 139.5 226.5 139.5 225.5 139.5 228.5 139.5 229.5 139.5 227.5 139.5 222.5 140.5 224.5 140.5 225.5 140.5 224.5 140.5 222.5 140.5 224.5 140.5 225.5 140.5 227.5 140.5 228.5 140.5 230.5 140.5 229.5 141.5 234.5 141.5 230.5 141.5 231.5 141.5 229.5 141.5 231.5 141.5 230.5 141.5 228.5 141.5 230.5 141.5 231.5 141.5 224.5 142.5 227.5 142.5 229.5 142.5 228.5 142.5 225.5 142.5 224.5 142.5 226.5 142.5 227.5 142.5 231.5 143.5 233.5 143.5 232.5 143.5 228.5 143.5 227.5 143.5 225.5 143.5 224.5 143.5 225.5 143.5 221.5 143.5 225.5 143.5 227.5 143.5 228.5 144.5 225.5 144.5 226.5 144.5 228.5 144.5 226.5 144.5 224.5 144.5 225.5 144.5 226.5 144.5 224.5 144.5 223.5 144.5 222.5 144.5 226.5 145.5 225.5 145.5 230.5 145.5 226.5 145.5 227.5 145.5 221.5 145.5 223.5 145.5 226.5 145.5 225.5 146.5 223.5 146.5 224.5 146.5 227.5 146.5 228.5 146.5 229.5 146.5 230.5 146.5 228.5 146.5 227.5 146.5 228.5 147.5 227.5 147.5 223.5 147.5 226.5 147.5 225.5 147.5 224.5 147.5 227.5 147.5 224.5 147.5 228.5 147.5 225.5 148.5 222.5 148.5 224.5 148.5 220.5 148.5 221.5 148.5 224.5 148.5 222.5 148.5 223.5 148.5 226.5 148.5 229.5 148.5 226.5 149.5 223.5 149.5 222.5 149.5 223.5 149.5 224.5 149.5 219.5 149.5 216.5 149.5 219.5 149.5 222.5 149.5 218.5 150.5 218.5 150.5 214.5 150.5 220.5 150.5 222.5 150.5 224.5 150.5 223.5 150.5 221.5 150.5 219.5 150.5 220.5 150.5 222.5 151.5 219.5 151.5 220.5 151.5 225.5 151.5 221.5 151.5 222.5 151.5 215.5 151.5 220.5 151.5 222.5 151.5 224.5 151.5 226.5 152.5 230.5 152.5 233.5 152.5 231.5 152.5 230.5 152.5 231.5 152.5 225.5 152.5 224.5 152.5 223.5 152.5 226.5 152.5 228.5 153.5 229.5 153.5 227.5 153.5 228.5 153.5 232.5 153.5 233.5 153.5 231.5 153.5 232.5 153.5 233.5 153.5 231.5 154.5 233.5 154.5 234.5 154.5 231.5 154.5 232.5 154.5 229.5 154.5 228.5 154.5 227.5 154.5 234.5 154.5 236.5 155.5 236.5 155.5 235.5 155.5 232.5 155.5 233.5 155.5 229.5 155.5 233.5 155.5 234.5 155.5 232.5 155.5 233.5 155.5 235.5 156.5 236.5 156.5 239.5 156.5 234.5 156.5 233.5 156.5 235.5 156.5 236.5 156.5 233.5 156.5 236.5 156.5 237.5 157.5 232.5 157.5 230.5 157.5 231.5 157.5 232.5 157.5 229.5 157.5 232.5 157.5 233.5 157.5 232.5 157.5 230.5 158.5 232.5 158.5 234.5 158.5 235.5 158.5 236.5 158.5 235.5 158.5 232.5 158.5 234.5 158.5 235.5 158.5 234.5 159.5 232.5 159.5 235.5 159.5 233.5 159.5 235.5 159.5 233.5 159.5 235.5 159.5 237.5 159.5 235.5 159.5 236.5 159.5 234.5 160.5 233.5 160.5 232.5 160.5 230.5 160.5 233.5 160.5 232.5 160.5 237.5 160.5 234.5 160.5 235.5 161.5 235.5 161.5 233.5 161.5 232.5 161.5 231.5 161.5 233.5 161.5 231.5 161.5 230.5 161.5 231.5 161.5 229.5 162.5 228.5 162.5 229.5 162.5 227.5 162.5 224.5 162.5 226.5 162.5 231.5 162.5 227.5 162.5 230.5 162.5 233.5 162.5 237.5 162.5 234.5 163.5 230.5 163.5 228.5 163.5 230.5 163.5 227.5 163.5 228.5 163.5 230.5 163.5 229.5 163.5 230.5 163.5 229.5 163.5 234.5 164.5 229.5 164.5 230.5 164.5 229.5 164.5 231.5 164.5 230.5 164.5 233.5 164.5 231.5 164.5 229.5 164.5 231.5 164.5 235.5 165.5 234.5 165.5 232.5 165.5 230.5 165.5 226.5 165.5 227.5 165.5 234.5 166.5 232.5 166.5 230.5 166.5 228.5 166.5 226.5 166.5 228.5 166.5 227.5 166.5 228.5 166.5 227.5 166.5 228.5 166.5 227.5 167.5 227.5 167.5 225.5 167.5 226.5 167.5 221.5 167.5 222.5 167.5 223.5 167.5 222.5 167.5 226.5 167.5 225.5 167.5 224.5 168.5 224.5 168.5 223.5 168.5 221.5 168.5 225.5 168.5 226.5 168.5 224.5 168.5 228.5 168.5 227.5 169.5 229.5 169.5 225.5 169.5 226.5 169.5 231.5 169.5 230.5 169.5 226.5 169.5 225.5 169.5 227.5 169.5 225.5 169.5 224.5 169.5 221.5 170.5 221.5 170.5 222.5 170.5 225.5 170.5 224.5 170.5 227.5 170.5 225.5 170.5 224.5 171.5 224.5 171.5 225.5 171.5 224.5 171.5 222.5 171.5 224.5 171.5 223.5 171.5 225.5 171.5 224.5 171.5 227.5 171.5 223.5 172.5 225.5 172.5 224.5 172.5 227.5 172.5 229.5 172.5 225.5 172.5 228.5 172.5 230.5 172.5 228.5 172.5 229.5 172.5 227.5 173.5 221.5 173.5 223.5 173.5 222.5 173.5 221.5 173.5 222.5 173.5 219.5 173.5 220.5 173.5 221.5 173.5 224.5 174.5 222.5 174.5 220.5 174.5 219.5 174.5 217.5 174.5 223.5 174.5 224.5 174.5 225.5 174.5 222.5 175.5 221.5 175.5 225.5 175.5 224.5 175.5 223.5 175.5 224.5 175.5 223.5 175.5 222.5 175.5 224.5 175.5 219.5 175.5 221.5 176.5 219.5 176.5 218.5 176.5 217.5 176.5 219.5 176.5 222.5 176.5 220.5 176.5 219.5 176.5 224.5 176.5 228.5 176.5 226.5 176.5 224.5 177.5 223.5 177.5 220.5 177.5 222.5 177.5 215.5 177.5 214.5 177.5 213.5 177.5 215.5 177.5 221.5 177.5 219.5 177.5 220.5 177.5 218.5 178.5 219.5 178.5 217.5 178.5 219.5 178.5 220.5 178.5 219.5 178.5 220.5 178.5 218.5 178.5 213.5 178.5 215.5 178.5 214.5 179.5 218.5 179.5 217.5 179.5 216.5 179.5 218.5 179.5 216.5 179.5 213.5 179.5 212.5 179.5 215.5 180.5 214.5 180.5 217.5 180.5 218.5 180.5 221.5 180.5 222.5 180.5 219.5 180.5 217.5 180.5 219.5 180.5 218.5 180.5 215.5 181.5 213.5 181.5 214.5 181.5 213.5 181.5 214.5 181.5 212.5 181.5 216.5 181.5 215.5 181.5 222.5 181.5 218.5 181.5 225.5 182.5 227.5 182.5 231.5 182.5 235.5 182.5 236.5 182.5 238.5 182.5 235.5 182.5 238.5 182.5 242.5 182.5 250.5 182.5 244.5 182.5 239.5 183.5 239.5 183.5 243.5 183.5 244.5 183.5 243.5 183.5 244.5 183.5 241.5 183.5 244.5 184.5 237.5 184.5 240.5 184.5 241.5 184.5 244.5 184.5 243.5 184.5 244.5 184.5 242.5 184.5 238.5 184.5 237.5 184.5 239.5 184.5 236.5 185.5 238.5 185.5 239.5 185.5 238.5 185.5 241.5 185.5 244.5 185.5 239.5 185.5 240.5 185.5 238.5 186.5 239.5 186.5 241.5 186.5 240.5 186.5 241.5 186.5 238.5 186.5 236.5 186.5 239.5 186.5 241.5 187.5 237.5 187.5 234.5 187.5 236.5 187.5 233.5 187.5 231.5 187.5 236.5 187.5 237.5 187.5 238.5 188.5 235.5 188.5 233.5 188.5 234.5 188.5 231.5 188.5 230.5 188.5 232.5 188.5 231.5 188.5 235.5 189.5 233.5 189.5 231.5 189.5 234.5 189.5 235.5 189.5 237.5 189.5 232.5 189.5 231.5 189.5 228.5 189.5 234.5 189.5 235.5 190.5 229.5 190.5 233.5 190.5 236.5 190.5 233.5 190.5 229.5 190.5 228.5 190.5 231.5 190.5 230.5 190.5 229.5 190.5 228.5 191.5 227.5 191.5 226.5 191.5 224.5 191.5 226.5 191.5 232.5 191.5 229.5 191.5 233.5 191.5 226.5 191.5 230.5 191.5 233.5 192.5 236.5 192.5 232.5 192.5 230.5 192.5 228.5 192.5 227.5 192.5 229.5 192.5 227.5 192.5 229.5 192.5 232.5 192.5 228.5 192.5 227.5 193.5 229.5 193.5 226.5 193.5 224.5 193.5 228.5 193.5 225.5 193.5 231.5 193.5 229.5 193.5 227.5 194.5 230.5 194.5 229.5 194.5 226.5 194.5 228.5 194.5 227.5 194.5 231.5 194.5 230.5 194.5 227.5 194.5 230.5 194.5 228.5 195.5 226.5 195.5 228.5 195.5 227.5 195.5 224.5 195.5 223.5 195.5 226.5 195.5 223.5 195.5 220.5 195.5 221.5 196.5 221.5 196.5 220.5 196.5 222.5 196.5 228.5 196.5 223.5 196.5 224.5 196.5 225.5 197.5 225.5 197.5 228.5 197.5 226.5 197.5 228.5 197.5 227.5 197.5 228.5 197.5 226.5 197.5 221.5 197.5 226.5 198.5 226.5 198.5 225.5 198.5 223.5 198.5 226.5 198.5 228.5 198.5 231.5 198.5 228.5 198.5 231.5 198.5 229.5 199.5 226.5 199.5 229.5 199.5 230.5 199.5 226.5 199.5 227.5 199.5 231.5 199.5 228.5 199.5 226.5 199.5 232.5 199.5 237.5 200.5 228.5 200.5 233.5 200.5 229.5 200.5 226.5 200.5 233.5 200.5 228.5 200.5 227.5 200.5 228.5 200.5 230.5 200.5 229.5 201.5 231.5 201.5 230.5 201.5 231.5 201.5 229.5 201.5 227.5 201.5 226.5 201.5 224.5 201.5 229.5 202.5 229.5 202.5 228.5 202.5 226.5 202.5 232.5 202.5 230.5 202.5 225.5 202.5 226.5 202.5 227.5 203.5 226.5 203.5 227.5 203.5 224.5 203.5 229.5 203.5 226.5 203.5 225.5 203.5 223.5 203.5 226.5 203.5 227.5 204.5 229.5 204.5 231.5 204.5 232.5 204.5 229.5 204.5 234.5 204.5 235.5 204.5 232.5 204.5 228.5 204.5 229.5 204.5 226.5 204.5 227.5 205.5 229.5 205.5 233.5 205.5 231.5 205.5 226.5 205.5 227.5 205.5 230.5 205.5 229.5 205.5 232.5 205.5 233.5 205.5 229.5 205.5 228.5 206.5 226.5 206.5 227.5 206.5 228.5 206.5 229.5 206.5 227.5 206.5 230.5 206.5 234.5 206.5 230.5 206.5 231.5 207.5 235.5 207.5 226.5 207.5 229.5 207.5 228.5 207.5 227.5 207.5 228.5 207.5 232.5 207.5 229.5 207.5 231.5 208.5 228.5 208.5 229.5 208.5 233.5 208.5 232.5 208.5 229.5 208.5 227.5 208.5 231.5 208.5 230.5 208.5 228.5 208.5 226.5 209.5 227.5 209.5 228.5 209.5 227.5 209.5 226.5 209.5 227.5 209.5 228.5 209.5 224.5 209.5 226.5 209.5 228.5 209.5 227.5 209.5 230.5 210.5 232.5 210.5 228.5 210.5 226.5 210.5 225.5 210.5 228.5 210.5 227.5 210.5 228.5 210.5 227.5 211.5 230.5 211.5 229.5 211.5 228.5 211.5 226.5 211.5 229.5 211.5 227.5 211.5 226.5 211.5 228.5 212.5 228.5 212.5 227.5 212.5 224.5 212.5 220.5 212.5 219.5 212.5 220.5 212.5 223.5 212.5 221.5 212.5 218.5 213.5 221.5 213.5 217.5 213.5 218.5 213.5 219.5 213.5 210.5 213.5 215.5 213.5 221.5 214.5 219.5 214.5 221.5 214.5 220.5 214.5 221.5 214.5 217.5 214.5 219.5 214.5 220.5 214.5 223.5 214.5 227.5 215.5 226.5 215.5 227.5 215.5 229.5 215.5 227.5 215.5 226.5 215.5 229.5 215.5 232.5 215.5 236.5 215.5 237.5 215.5 234.5 215.5 232.5 216.5 236.5 216.5 235.5 216.5 233.5 216.5 244.5 216.5 239.5 216.5 238.5 216.5 236.5 216.5 239.5 216.5 237.5 216.5 235.5 217.5 235.5 217.5 232.5 217.5 231.5 217.5 233.5 217.5 235.5 217.5 236.5 217.5 234.5 217.5 244.5 217.5 236.5 217.5 234.5 217.5 231.5 218.5 229.5 218.5 228.5 218.5 232.5 218.5 226.5 218.5 230.5 218.5 228.5 218.5 230.5 218.5 232.5 218.5 233.5 218.5 231.5 219.5 230.5 219.5 233.5 219.5 231.5 219.5 229.5 219.5 226.5 219.5 229.5 219.5 227.5 220.5 230.5 220.5 228.5 220.5 227.5 220.5 228.5 220.5 230.5 220.5 231.5 220.5 228.5 220.5 227.5 220.5 223.5 220.5 228.5 221.5 229.5 221.5 230.5 221.5 227.5 221.5 228.5 221.5 230.5 221.5 229.5 221.5 234.5 222.5 234.5 222.5 233.5 222.5 230.5 222.5 235.5 222.5 232.5 222.5 233.5 222.5 229.5 222.5 227.5 222.5 228.5 222.5 227.5 222.5 230.5 223.5 229.5 223.5 228.5 223.5 225.5 223.5 227.5 223.5 232.5 223.5 228.5 223.5 230.5 223.5 225.5 223.5 226.5 224.5 224.5 224.5 225.5 224.5 229.5 224.5 227.5 224.5 226.5 224.5 227.5 224.5 231.5 224.5 223.5 224.5 220.5 224.5 221.5 224.5 222.5 225.5 222.5 225.5 227.5 225.5 230.5 225.5 227.5 225.5 223.5 225.5 222.5 225.5 223.5 225.5 222.5 225.5 220.5 226.5 221.5 226.5 220.5 226.5 223.5 226.5 222.5 226.5 225.5 226.5 227.5 226.5 223.5 226.5 227.5 226.5 224.5 227.5 223.5 227.5 225.5 227.5 227.5 227.5 225.5 227.5 223.5 227.5 224.5 227.5 226.5 227.5 228.5 227.5 227.5 227.5 226.5 227.5 223.5 228.5 224.5 228.5 222.5 228.5 225.5 228.5 228.5 228.5 224.5 228.5 225.5 228.5 226.5 228.5 225.5 228.5 227.5 228.5 226.5 228.5 228.5 229.5 226.5 229.5 225.5 229.5 224.5 229.5 222.5 229.5 226.5 229.5 224.5 229.5 226.5 229.5 225.5 229.5 223.5 230.5 222.5 230.5 217.5 230.5 220.5 230.5 217.5 230.5 220.5 230.5 223.5 230.5 224.5 230.5 223.5 230.5 222.5 231.5 223.5 231.5 225.5 231.5 224.5 231.5 225.5 231.5 223.5 231.5 222.5 231.5 224.5 231.5 226.5 232.5 227.5 232.5 223.5 232.5 220.5 232.5 219.5 232.5 221.5 232.5 220.5 232.5 221.5 232.5 223.5 233.5 221.5 233.5 220.5 233.5 222.5 233.5 221.5 233.5 219.5 233.5 223.5 233.5 224.5 233.5 225.5 234.5 221.5 234.5 223.5 234.5 217.5 234.5 216.5 234.5 218.5 234.5 216.5 234.5 217.5 234.5 216.5 235.5 216.5 235.5 215.5 235.5 217.5 235.5 219.5 235.5 215.5 235.5 218.5 235.5 214.5 235.5 217.5 235.5 219.5 235.5 220.5 236.5 222.5 236.5 219.5 236.5 220.5 236.5 219.5 236.5 223.5 236.5 220.5 236.5 221.5 236.5 225.5 236.5 224.5 236.5 225.5 236.5 219.5 237.5 223.5 237.5 221.5 237.5 222.5 237.5 223.5 237.5 224.5 237.5 219.5 237.5 222.5 237.5 220.5 237.5 221.5 237.5 219.5 238.5 220.5 238.5 223.5 238.5 221.5 238.5 217.5 238.5 220.5 238.5 217.5 238.5 216.5 238.5 218.5 239.5 218.5 239.5 217.5 239.5 216.5 239.5 217.5 239.5 218.5 239.5 224.5 239.5 221.5 239.5 222.5 239.5 220.5 240.5 219.5 240.5 216.5 240.5 217.5 240.5 221.5 240.5 219.5 240.5 221.5 240.5 218.5 240.5 220.5 240.5 221.5 241.5 220.5 241.5 222.5 241.5 220.5 241.5 219.5 241.5 220.5 241.5 221.5 241.5 216.5 241.5 215.5 241.5 216.5 241.5 214.5 242.5 217.5 242.5 218.5 242.5 219.5 242.5 221.5 242.5 222.5 242.5 217.5 242.5 218.5 242.5 220.5 242.5 221.5 243.5 221.5 243.5 223.5 243.5 226.5 243.5 224.5 243.5 223.5 243.5 224.5 243.5 223.5 243.5 221.5 243.5 218.5 244.5 216.5 244.5 218.5 244.5 217.5 244.5 219.5 244.5 218.5 245.5 220.5 245.5 221.5 245.5 220.5 245.5 221.5 245.5 224.5 245.5 219.5 245.5 208.5 245.5 216.5 245.5 218.5 245.5 224.5 245.5 222.5 246.5 220.5 246.5 221.5 246.5 220.5 246.5 219.5 246.5 223.5 246.5 224.5 246.5 221.5 246.5 220.5 246.5 223.5 247.5 226.5 247.5 224.5 247.5 225.5 247.5 226.5 247.5 224.5 247.5 228.5 247.5 225.5 247.5 245.5 247.5 230.5 247.5 226.5 248.5 227.5 248.5 225.5 248.5 223.5 248.5 225.5 248.5 222.5 248.5 221.5 248.5 222.5 248.5 224.5 248.5 222.5 249.5 224.5 249.5 222.5 249.5 221.5 249.5 223.5 249.5 225.5 249.5 228.5 249.5 225.5 249.5 229.5 249.5 231.5 250.5 232.5 250.5 229.5 250.5 225.5 250.5 227.5 250.5 224.5 250.5 221.5 250.5 220.5 250.5 225.5 250.5 223.5 250.5 219.5 250.5 224.5 251.5 228.5 251.5 225.5 251.5 224.5 251.5 225.5 251.5 226.5 251.5 229.5 251.5 230.5 251.5 228.5 251.5 226.5 251.5 224.5 251.5 223.5 252.5 225.5 252.5 226.5 252.5 223.5 252.5 227.5 252.5 226.5 252.5 228.5 252.5 227.5 252.5 222.5 252.5 223.5 252.5 225.5 252.5 227.5 253.5 230.5 253.5 228.5 253.5 232.5 253.5 230.5 253.5 228.5 253.5 229.5 253.5 230.5 253.5 226.5 253.5 223.5 253.5 220.5 254.5 222.5 254.5 224.5 254.5 222.5 254.5 223.5 254.5 221.5 254.5 223.5 254.5 224.5 254.5 222.5 254.5 223.5 255.5 222.5 255.5 217.5 255.5 221.5 255.5 222.5 255.5 219.5 255.5 221.5 255.5 218.5 255.5 222.5 256.5 224.5 256.5 223.5 256.5 221.5 256.5 220.5 256.5 221.5 256.5 222.5 256.5 224.5 256.5 221.5 256.5 219.5 256.5 223.5 257.5 223.5 257.5 226.5 257.5 221.5 257.5 222.5 257.5 224.5 257.5 220.5 257.5 219.5 257.5 220.5 257.5 217.5 258.5 218.5 258.5 219.5 258.5 217.5 258.5 216.5 258.5 219.5 258.5 218.5 258.5 222.5 258.5 224.5 258.5 225.5 258.5 223.5 259.5 225.5 259.5 228.5 259.5 225.5 259.5 226.5 259.5 225.5 259.5 224.5 259.5 226.5 259.5 223.5 259.5 224.5 260.5 223.5 260.5 226.5 260.5 228.5 260.5 224.5 260.5 220.5 260.5 221.5 260.5 225.5 260.5 229.5 261.5 233.5 261.5 231.5 261.5 232.5 261.5 233.5 261.5 230.5 261.5 229.5 261.5 232.5 261.5 231.5 261.5 227.5 261.5 226.5 262.5 229.5 262.5 228.5 262.5 233.5 262.5 230.5 262.5 233.5 262.5 235.5 262.5 232.5 262.5 235.5 263.5 234.5 263.5 235.5 263.5 237.5 263.5 234.5 263.5 233.5 263.5 232.5 263.5 231.5 263.5 232.5 263.5 233.5 264.5 230.5 264.5 229.5 264.5 228.5 264.5 229.5 264.5 231.5 264.5 228.5 264.5 229.5 265.5 227.5 265.5 225.5 265.5 228.5 265.5 225.5 265.5 227.5 265.5 229.5 265.5 231.5 265.5 232.5 265.5 229.5 266.5 227.5 266.5 232.5 266.5 230.5 266.5 229.5 266.5 230.5 266.5 228.5 266.5 224.5 266.5 226.5 266.5 224.5 266.5 227.5 267.5 228.5 267.5 224.5 267.5 226.5 267.5 229.5 267.5 227.5 267.5 223.5 267.5 224.5 267.5 225.5 267.5 227.5 268.5 229.5 268.5 227.5 268.5 230.5 268.5 233.5 268.5 229.5 268.5 230.5 268.5 227.5 268.5 224.5 268.5 225.5 268.5 226.5 269.5 231.5 269.5 225.5 269.5 223.5 269.5 225.5 269.5 228.5 269.5 225.5 269.5 229.5 269.5 226.5 269.5 224.5 269.5 227.5 269.5 228.5 270.5 223.5 270.5 225.5 270.5 224.5 270.5 225.5 270.5 230.5 270.5 226.5 270.5 222.5 270.5 224.5 270.5 226.5 270.5 222.5 270.5 227.5 271.5 227.5 271.5 229.5 271.5 231.5 271.5 230.5 271.5 234.5 271.5 233.5 271.5 229.5 271.5 230.5 271.5 223.5 271.5 222.5 272.5 224.5 272.5 222.5 272.5 223.5 272.5 222.5 272.5 224.5 272.5 226.5 272.5 221.5 272.5 223.5 272.5 220.5 272.5 226.5 273.5 228.5 273.5 229.5 273.5 227.5 273.5 226.5 273.5 224.5 273.5 223.5 273.5 224.5 273.5 223.5 273.5 222.5 273.5 223.5 273.5 229.5 274.5 228.5 274.5 226.5 274.5 223.5 274.5 225.5 274.5 226.5 274.5 210.5 274.5 219.5 274.5 221.5 275.5 221.5 275.5 222.5 275.5 226.5 275.5 224.5 275.5 226.5 275.5 225.5 275.5 223.5 275.5 225.5 275.5 223.5 275.5 224.5 276.5 245.5 276.5 230.5 276.5 224.5 276.5 228.5 276.5 225.5 276.5 230.5 276.5 227.5 276.5 225.5 276.5 226.5 277.5 222.5 277.5 224.5 277.5 227.5 277.5 225.5 277.5 226.5 277.5 225.5 277.5 223.5 277.5 224.5 277.5 226.5 278.5 222.5 278.5 223.5 278.5 221.5 278.5 220.5 278.5 222.5 278.5 226.5 278.5 228.5 279.5 227.5 279.5 225.5 279.5 224.5 279.5 225.5 279.5 226.5 279.5 225.5 279.5 223.5 279.5 225.5 280.5 224.5 280.5 223.5 280.5 225.5 280.5 224.5 280.5 223.5 280.5 221.5 280.5 224.5 280.5 225.5 280.5 221.5 280.5 218.5 280.5 219.5 281.5 218.5 281.5 221.5 281.5 220.5 281.5 221.5 281.5 220.5 281.5 224.5 281.5 223.5 281.5 222.5 281.5 220.5 282.5 219.5 282.5 217.5 282.5 223.5 282.5 227.5 282.5 225.5 282.5 221.5 282.5 218.5 282.5 222.5 282.5 221.5 282.5 223.5 283.5 221.5 283.5 222.5 283.5 219.5 283.5 222.5 283.5 219.5 283.5 222.5 283.5 221.5 283.5 224.5 283.5 228.5 283.5 226.5 284.5 225.5 284.5 222.5 284.5 220.5 284.5 223.5 284.5 220.5 284.5 218.5 284.5 221.5 285.5 221.5 285.5 227.5 285.5 220.5 285.5 219.5 285.5 220.5 285.5 225.5 285.5 224.5 286.5 225.5 286.5 223.5 286.5 221.5 286.5 220.5 286.5 215.5 286.5 219.5 286.5 221.5 286.5 219.5 286.5 220.5 286.5 217.5 287.5 219.5 287.5 220.5 287.5 216.5 287.5 221.5 287.5 218.5 287.5 216.5 287.5 219.5 287.5 218.5 287.5 220.5 288.5 217.5 288.5 220.5 288.5 221.5 288.5 223.5 288.5 219.5 288.5 220.5 288.5 218.5 288.5 224.5 289.5 221.5 289.5 224.5 289.5 221.5 289.5 218.5 289.5 219.5 289.5 221.5 289.5 220.5 289.5 219.5 289.5 215.5 290.5 216.5 290.5 218.5 290.5 216.5 290.5 219.5 290.5 223.5 290.5 222.5 290.5 219.5 290.5 218.5 290.5 221.5 291.5 221.5 291.5 215.5 291.5 219.5 291.5 220.5 291.5 217.5 291.5 214.5 291.5 216.5 291.5 213.5 291.5 215.5 291.5 218.5 292.5 218.5 292.5 215.5 292.5 213.5 292.5 215.5 292.5 218.5 292.5 217.5 292.5 218.5 292.5 219.5 292.5 217.5 292.5 216.5 292.5 219.5 293.5 219.5 293.5 215.5 293.5 216.5 293.5 212.5 293.5 219.5 293.5 220.5 293.5 218.5 293.5 219.5 293.5 218.5 293.5 217.5 293.5 219.5 294.5 214.5 294.5 211.5 294.5 216.5 294.5 217.5 294.5 219.5 294.5 218.5 294.5 217.5 294.5 214.5 294.5 212.5 294.5 214.5 295.5 213.5 295.5 212.5 295.5 217.5 295.5 216.5 295.5 218.5 295.5 214.5 295.5 211.5 295.5 212.5 295.5 210.5 295.5 212.5 295.5 215.5 296.5 212.5 296.5 213.5 296.5 216.5 296.5 214.5 296.5 215.5 296.5 217.5 296.5 218.5 296.5 216.5 297.5 213.5 297.5 218.5 297.5 220.5 297.5 221.5 297.5 220.5 297.5 217.5 297.5 218.5 297.5 219.5 298.5 216.5 298.5 218.5 298.5 215.5 298.5 217.5 298.5 219.5 298.5 217.5 298.5 218.5 298.5 220.5 298.5 215.5 298.5 217.5 299.5 219.5 299.5 217.5 299.5 222.5 299.5 220.5 299.5 221.5 299.5 224.5 299.5 222.5 299.5 224.5 300.5 226.5 300.5 229.5 300.5 268.5 300.5 241.5 300.5 229.5 300.5 230.5 300.5 232.5 300.5 234.5 300.5 232.5 301.5 228.5 301.5 234.5 301.5 235.5 301.5 233.5 301.5 237.5 301.5 231.5 301.5 230.5 301.5 226.5 301.5 211.5 301.5 224.5 302.5 232.5 302.5 228.5 302.5 227.5 302.5 231.5 302.5 228.5 302.5 227.5 302.5 229.5 302.5 242.5 302.5 233.5 302.5 230.5 303.5 231.5 303.5 229.5 303.5 230.5 303.5 228.5 303.5 226.5 303.5 227.5 303.5 229.5 303.5 231.5 303.5 233.5 304.5 231.5 304.5 234.5 304.5 235.5 304.5 232.5 304.5 228.5 304.5 226.5 304.5 227.5 304.5 228.5 304.5 226.5 305.5 229.5 305.5 227.5 305.5 231.5 305.5 229.5 305.5 233.5 305.5 231.5 305.5 234.5 306.5 228.5 306.5 230.5 306.5 229.5 306.5 223.5 306.5 226.5 306.5 227.5 306.5 230.5 306.5 233.5 306.5 230.5 307.5 230.5 307.5 226.5 307.5 229.5 307.5 228.5 307.5 227.5 307.5 228.5 308.5 227.5 308.5 230.5 308.5 223.5 308.5 228.5 308.5 224.5 308.5 222.5 308.5 225.5 308.5 223.5 308.5 224.5 309.5 226.5 309.5 225.5 309.5 227.5 309.5 229.5 309.5 226.5 309.5 225.5 309.5 226.5 309.5 228.5 310.5 227.5 310.5 228.5 310.5 224.5 310.5 229.5 310.5 226.5 310.5 223.5 310.5 225.5 310.5 223.5 310.5 225.5 311.5 227.5 311.5 226.5 311.5 225.5 311.5 227.5 311.5 223.5 311.5 226.5 311.5 225.5 311.5 224.5 311.5 221.5 311.5 224.5 312.5 221.5 312.5 219.5 312.5 221.5 312.5 217.5 312.5 222.5 312.5 224.5 312.5 226.5 312.5 231.5 312.5 232.5 312.5 227.5 313.5 230.5 313.5 226.5 313.5 227.5 313.5 225.5 313.5 220.5 313.5 225.5 313.5 223.5 313.5 214.5 313.5 216.5 313.5 217.5 314.5 218.5 314.5 217.5 314.5 221.5 314.5 220.5 314.5 219.5 314.5 218.5 314.5 217.5 315.5 218.5 315.5 219.5 315.5 221.5 315.5 223.5 315.5 221.5 315.5 225.5 315.5 222.5 315.5 225.5 315.5 227.5 315.5 228.5 316.5 226.5 316.5 230.5 316.5 225.5 316.5 229.5 316.5 227.5 316.5 228.5 316.5 227.5 316.5 225.5 316.5 226.5 316.5 228.5 317.5 228.5 317.5 226.5 317.5 230.5 317.5 229.5 317.5 203.5 317.5 220.5 317.5 230.5 317.5 228.5 317.5 231.5 317.5 232.5 318.5 231.5 318.5 234.5 318.5 261.5 318.5 242.5 318.5 235.5 318.5 236.5 318.5 233.5 318.5 235.5 318.5 237.5 319.5 236.5 319.5 233.5 319.5 237.5 319.5 235.5 319.5 238.5 319.5 239.5 319.5 238.5 319.5 235.5 319.5 238.5 320.5 235.5 320.5 234.5 320.5 236.5 320.5 239.5 320.5 238.5 320.5 247.5 320.5 241.5 320.5 237.5 320.5 231.5 321.5 230.5 321.5 232.5 321.5 230.5 321.5 234.5 321.5 232.5 321.5 228.5 321.5 229.5 321.5 231.5 321.5 233.5 321.5 235.5 322.5 234.5 322.5 230.5 322.5 232.5 322.5 233.5 322.5 236.5 322.5 232.5 322.5 233.5 322.5 231.5 322.5 234.5 322.5 232.5 323.5 231.5 323.5 232.5 323.5 234.5 323.5 228.5 323.5 226.5 323.5 231.5 323.5 228.5 323.5 229.5 323.5 227.5 323.5 229.5 324.5 231.5 324.5 234.5 324.5 237.5 324.5 239.5 324.5 237.5 324.5 235.5 324.5 231.5 324.5 227.5 324.5 231.5 324.5 236.5 324.5 234.5 325.5 232.5 325.5 233.5 325.5 235.5 325.5 234.5 325.5 233.5 325.5 236.5 325.5 235.5 325.5 236.5 325.5 234.5 326.5 235.5 326.5 233.5 326.5 238.5 326.5 234.5 326.5 232.5 326.5 233.5 326.5 234.5 326.5 236.5 326.5 230.5 326.5 229.5 327.5 230.5 327.5 231.5 327.5 232.5 327.5 234.5 327.5 231.5 327.5 228.5 327.5 231.5 327.5 229.5 327.5 230.5 327.5 229.5 327.5 231.5 328.5 228.5 328.5 224.5 328.5 227.5 328.5 228.5 328.5 226.5 328.5 228.5 328.5 231.5 328.5 235.5 328.5 233.5 328.5 228.5 328.5 230.5 329.5 229.5 329.5 234.5 329.5 232.5 329.5 231.5 329.5 230.5 329.5 231.5 329.5 232.5 329.5 227.5 329.5 229.5 329.5 225.5 330.5 228.5 330.5 225.5 330.5 224.5 330.5 225.5 330.5 224.5 330.5 219.5 330.5 227.5 330.5 225.5 330.5 222.5 331.5 226.5 331.5 225.5 331.5 223.5 331.5 225.5 331.5 224.5 331.5 222.5 331.5 224.5 331.5 225.5 332.5 220.5 332.5 224.5 332.5 225.5 332.5 226.5 332.5 225.5 332.5 226.5 332.5 223.5 332.5 225.5 332.5 226.5 332.5 228.5 332.5 227.5 333.5 229.5 333.5 227.5 333.5 224.5 333.5 227.5 333.5 221.5 333.5 220.5 333.5 221.5 333.5 222.5 333.5 220.5 333.5 222.5 334.5 222.5 334.5 221.5 334.5 224.5 334.5 220.5 334.5 224.5 334.5 222.5 334.5 224.5 334.5 223.5 334.5 188.5 334.5 208.5 335.5 221.5 335.5 220.5 335.5 219.5 335.5 223.5 335.5 222.5 335.5 225.5 335.5 221.5 335.5 217.5 335.5 218.5 336.5 218.5 336.5 219.5 336.5 224.5 336.5 223.5 336.5 220.5 336.5 222.5 336.5 228.5 336.5 222.5 336.5 218.5 336.5 215.5 337.5 211.5 337.5 219.5 337.5 218.5 337.5 220.5 337.5 219.5 337.5 217.5 337.5 219.5 337.5 218.5 337.5 220.5 337.5 225.5 338.5 223.5 338.5 220.5 338.5 218.5 338.5 217.5 338.5 220.5 338.5 218.5 338.5 225.5 338.5 222.5 338.5 224.5 338.5 221.5 338.5 223.5 339.5 221.5 339.5 218.5 339.5 215.5 339.5 218.5 339.5 215.5 339.5 213.5 339.5 215.5 339.5 219.5 339.5 218.5 339.5 220.5 340.5 222.5 340.5 225.5 340.5 222.5 340.5 217.5 340.5 220.5 340.5 223.5 340.5 220.5 340.5 217.5 340.5 218.5 340.5 216.5 341.5 216.5 341.5 217.5 341.5 216.5 341.5 221.5 341.5 220.5 341.5 219.5 341.5 217.5 341.5 215.5 341.5 217.5 341.5 219.5 341.5 220.5 342.5 220.5 342.5 222.5 342.5 224.5 342.5 221.5 342.5 223.5 342.5 221.5 342.5 220.5 342.5 234.5 342.5 223.5 342.5 217.5 343.5 214.5 343.5 217.5 343.5 221.5 343.5 218.5 343.5 221.5 343.5 222.5 343.5 220.5 343.5 214.5 343.5 217.5 343.5 215.5 344.5 213.5 344.5 217.5 344.5 219.5 344.5 220.5 344.5 221.5 344.5 220.5 344.5 222.5 344.5 221.5 344.5 215.5 344.5 220.5 345.5 219.5 345.5 221.5 345.5 220.5 345.5 221.5 345.5 222.5 345.5 221.5 345.5 222.5 345.5 221.5 345.5 218.5 345.5 217.5 345.5 218.5 346.5 217.5 346.5 218.5 346.5 212.5 346.5 214.5 346.5 212.5 346.5 213.5 346.5 216.5 346.5 217.5 346.5 220.5 346.5 219.5 347.5 216.5 347.5 217.5 347.5 219.5 347.5 223.5 347.5 221.5 347.5 218.5 347.5 217.5 347.5 218.5 348.5 217.5 348.5 220.5 348.5 222.5 348.5 226.5 348.5 225.5 348.5 224.5 348.5 222.5 348.5 225.5 348.5 223.5 349.5 218.5 349.5 220.5 349.5 224.5 349.5 223.5 349.5 224.5 349.5 223.5 349.5 224.5 349.5 222.5 349.5 220.5 349.5 221.5 350.5 221.5 350.5 225.5 350.5 219.5 350.5 222.5 350.5 225.5 350.5 223.5 350.5 225.5 350.5 224.5 350.5 225.5 351.5 224.5 351.5 225.5 351.5 226.5 351.5 225.5 351.5 226.5 351.5 225.5 351.5 227.5 351.5 225.5 351.5 223.5 352.5 227.5 352.5 224.5 352.5 222.5 352.5 227.5 352.5 223.5 352.5 229.5 352.5 226.5 352.5 224.5 352.5 221.5 352.5 219.5 352.5 220.5 353.5 206.5 353.5 214.5 353.5 217.5 353.5 219.5 353.5 220.5 353.5 240.5 353.5 231.5 353.5 223.5 353.5 226.5 354.5 230.5 354.5 228.5 354.5 225.5 354.5 229.5 354.5 228.5 354.5 226.5 354.5 227.5 354.5 228.5 354.5 227.5 355.5 231.5 355.5 229.5 355.5 231.5 355.5 226.5 355.5 227.5 355.5 228.5 355.5 225.5 355.5 228.5 355.5 229.5 355.5 228.5 356.5 226.5 356.5 228.5 356.5 231.5 356.5 232.5 356.5 230.5 356.5 228.5 356.5 225.5 356.5 230.5 356.5 228.5 357.5 227.5 357.5 226.5 357.5 227.5 357.5 226.5 357.5 225.5 357.5 221.5 357.5 227.5 357.5 228.5 357.5 226.5 357.5 223.5 358.5 227.5 358.5 228.5 358.5 226.5 358.5 227.5 358.5 224.5 358.5 221.5 358.5 222.5 358.5 221.5 358.5 225.5 358.5 227.5 359.5 224.5 359.5 222.5 359.5 226.5 359.5 224.5 359.5 225.5 359.5 224.5 359.5 222.5 359.5 223.5 359.5 226.5 360.5 222.5 360.5 223.5 360.5 227.5 360.5 225.5 360.5 222.5 360.5 219.5 360.5 218.5 360.5 220.5 360.5 219.5 360.5 216.5 361.5 217.5 361.5 222.5 361.5 219.5 361.5 220.5 361.5 218.5 361.5 219.5 361.5 218.5 361.5 216.5 362.5 220.5 362.5 218.5 362.5 217.5 362.5 214.5 362.5 212.5 362.5 215.5 362.5 213.5 362.5 216.5 362.5 212.5 362.5 211.5 363.5 214.5 363.5 213.5 363.5 215.5 363.5 218.5 363.5 217.5 363.5 214.5 363.5 207.5 363.5 211.5 363.5 214.5 363.5 217.5 364.5 218.5 364.5 219.5 364.5 221.5 364.5 223.5 364.5 219.5 364.5 220.5 364.5 219.5 364.5 222.5 364.5 225.5 364.5 222.5 365.5 221.5 365.5 220.5 365.5 223.5 365.5 224.5 365.5 223.5 365.5 225.5 365.5 222.5 365.5 221.5 365.5 225.5 365.5 223.5 366.5 226.5 366.5 225.5 366.5 226.5 366.5 228.5 366.5 225.5 366.5 227.5 366.5 230.5 366.5 226.5 367.5 238.5 367.5 231.5 367.5 229.5 367.5 228.5 367.5 226.5 367.5 227.5 367.5 228.5 367.5 229.5 367.5 228.5 367.5 226.5 368.5 230.5 368.5 226.5 368.5 227.5 368.5 223.5 368.5 220.5 368.5 217.5 368.5 220.5 368.5 216.5 368.5 219.5 368.5 216.5 369.5 220.5 369.5 223.5 369.5 222.5 369.5 220.5 369.5 218.5 369.5 222.5 369.5 223.5 369.5 219.5 369.5 218.5 370.5 216.5 370.5 217.5 370.5 214.5 370.5 215.5 370.5 218.5 370.5 215.5 370.5 213.5 371.5 215.5 371.5 220.5 371.5 216.5 371.5 217.5 371.5 222.5 371.5 221.5 371.5 220.5 371.5 221.5 372.5 223.5 372.5 218.5 372.5 220.5 372.5 222.5 372.5 223.5 372.5 222.5 372.5 218.5 372.5 215.5 372.5 212.5 372.5 216.5 372.5 217.5 373.5 214.5 373.5 216.5 373.5 212.5 373.5 217.5 373.5 219.5 373.5 217.5 373.5 219.5 373.5 216.5 374.5 213.5 374.5 217.5 374.5 216.5 374.5 221.5 374.5 222.5 374.5 219.5 374.5 223.5 374.5 225.5 374.5 224.5 375.5 222.5 375.5 219.5 375.5 217.5 375.5 218.5 375.5 220.5 375.5 222.5 375.5 219.5 375.5 220.5 375.5 226.5 375.5 231.5 376.5 227.5 376.5 223.5 376.5 225.5 376.5 229.5 376.5 234.5 376.5 237.5 376.5 243.5 376.5 237.5 376.5 235.5 376.5 233.5 376.5 230.5 377.5 230.5 377.5 232.5 377.5 235.5 377.5 236.5 377.5 231.5 377.5 233.5 377.5 229.5 377.5 232.5 377.5 231.5 378.5 232.5 378.5 233.5 378.5 230.5 378.5 227.5 378.5 230.5 378.5 227.5 378.5 230.5 378.5 231.5 379.5 231.5 379.5 232.5 379.5 230.5 379.5 232.5 379.5 233.5 379.5 232.5 379.5 234.5 379.5 235.5 379.5 233.5 379.5 231.5 379.5 233.5 380.5 235.5 380.5 234.5 380.5 229.5 380.5 233.5 380.5 235.5 380.5 236.5 380.5 237.5 381.5 233.5 381.5 236.5 381.5 237.5 381.5 235.5 381.5 234.5 381.5 235.5 381.5 233.5 381.5 231.5 381.5 227.5 382.5 243.5 382.5 233.5 382.5 225.5 382.5 226.5 382.5 232.5 382.5 229.5 382.5 232.5 382.5 230.5 383.5 230.5 383.5 235.5 383.5 232.5 383.5 231.5 383.5 230.5 383.5 231.5 383.5 228.5 383.5 227.5 383.5 231.5 384.5 232.5 384.5 235.5 384.5 233.5 384.5 237.5 384.5 233.5 384.5 235.5 384.5 238.5 384.5 231.5 384.5 226.5 385.5 228.5 385.5 233.5 385.5 232.5 385.5 229.5 385.5 231.5 385.5 228.5 385.5 226.5 385.5 225.5 385.5 229.5 386.5 231.5 386.5 233.5 386.5 229.5 386.5 226.5 386.5 227.5 386.5 229.5 386.5 225.5 386.5 223.5 386.5 225.5 386.5 224.5 387.5 229.5 387.5 225.5 387.5 222.5 387.5 220.5 387.5 224.5 387.5 226.5 387.5 225.5 387.5 227.5 388.5 225.5 388.5 223.5 388.5 227.5 388.5 226.5 388.5 225.5 388.5 224.5 388.5 220.5 388.5 218.5 389.5 222.5 389.5 225.5 389.5 222.5 389.5 224.5 389.5 226.5 389.5 224.5 389.5 226.5 389.5 225.5 389.5 224.5 390.5 221.5 390.5 219.5 390.5 216.5 390.5 217.5 390.5 218.5 390.5 217.5 390.5 219.5 390.5 217.5 390.5 220.5 390.5 221.5 390.5 227.5 391.5 226.5 391.5 223.5 391.5 221.5 391.5 220.5 391.5 219.5 391.5 214.5 391.5 216.5 391.5 217.5 391.5 218.5 391.5 217.5 391.5 221.5 392.5 219.5 392.5 215.5 392.5 214.5 392.5 218.5 392.5 221.5 392.5 220.5 392.5 218.5 392.5 220.5 392.5 222.5 393.5 223.5 393.5 217.5 393.5 215.5 393.5 216.5 393.5 219.5 393.5 217.5 393.5 218.5 393.5 216.5 393.5 215.5 394.5 218.5 394.5 217.5 394.5 215.5 394.5 211.5 394.5 215.5 394.5 216.5 394.5 217.5 394.5 213.5 394.5 216.5 394.5 217.5 395.5 214.5 395.5 211.5 395.5 212.5 395.5 211.5 395.5 214.5 395.5 212.5 395.5 214.5 395.5 212.5 395.5 217.5 395.5 215.5 396.5 217.5 396.5 216.5 396.5 219.5 396.5 220.5 396.5 218.5 396.5 216.5 396.5 218.5 397.5 221.5 397.5 219.5 397.5 221.5 397.5 224.5 397.5 219.5 397.5 222.5 397.5 195.5 397.5 211.5 397.5 223.5 397.5 227.5 397.5 225.5 398.5 224.5 398.5 226.5 398.5 227.5 398.5 241.5 398.5 232.5 398.5 228.5 398.5 229.5 398.5 223.5 398.5 229.5 398.5 226.5 398.5 227.5 399.5 223.5 399.5 230.5 399.5 228.5 399.5 227.5 399.5 230.5 399.5 234.5 399.5 226.5 399.5 225.5 399.5 226.5 399.5 228.5 399.5 225.5 400.5 223.5 400.5 225.5 400.5 221.5 400.5 224.5 400.5 223.5 400.5 220.5 400.5 226.5 400.5 228.5 400.5 221.5 400.5 222.5 401.5 220.5 401.5 219.5 401.5 217.5 401.5 216.5 401.5 221.5 401.5 224.5 401.5 219.5 401.5 222.5 402.5 225.5 402.5 227.5 402.5 226.5 402.5 223.5 402.5 222.5 402.5 223.5 402.5 225.5 402.5 228.5 402.5 224.5 402.5 226.5 402.5 222.5 403.5 220.5 403.5 225.5 403.5 223.5 403.5 220.5 403.5 223.5 403.5 222.5 403.5 221.5 403.5 220.5 403.5 221.5 403.5 217.5 403.5 218.5 404.5 222.5 404.5 223.5 404.5 224.5 404.5 225.5 404.5 224.5 404.5 226.5 404.5 219.5 404.5 221.5 404.5 217.5 404.5 216.5 405.5 221.5 405.5 220.5 405.5 223.5 405.5 224.5 405.5 221.5 405.5 222.5 405.5 220.5 405.5 222.5 405.5 220.5 405.5 219.5 405.5 224.5 406.5 223.5 406.5 227.5 406.5 224.5 406.5 220.5 406.5 223.5 406.5 224.5 406.5 219.5 406.5 217.5 407.5 218.5 407.5 220.5 407.5 221.5 407.5 223.5 407.5 222.5 407.5 220.5 407.5 217.5 407.5 222.5 408.5 222.5 408.5 219.5 408.5 217.5 408.5 218.5 408.5 217.5 408.5 218.5 408.5 216.5 408.5 218.5 409.5 218.5 409.5 221.5 409.5 222.5 409.5 221.5 409.5 218.5 409.5 219.5 409.5 215.5 409.5 218.5 409.5 217.5 409.5 219.5 410.5 215.5 410.5 217.5 410.5 220.5 410.5 221.5 410.5 225.5 410.5 220.5 410.5 214.5 410.5 216.5 410.5 215.5 410.5 214.5 410.5 216.5 411.5 218.5 411.5 215.5 411.5 219.5 411.5 217.5 411.5 216.5 411.5 219.5 411.5 222.5 411.5 219.5 411.5 218.5 411.5 216.5 411.5 219.5 412.5 220.5 412.5 217.5 412.5 218.5 412.5 217.5 412.5 215.5 412.5 214.5 412.5 216.5 413.5 210.5 413.5 215.5 413.5 221.5 413.5 217.5 413.5 221.5 413.5 217.5 413.5 219.5 413.5 217.5 413.5 218.5 414.5 219.5 414.5 216.5 414.5 217.5 414.5 215.5 414.5 218.5 414.5 214.5 414.5 216.5 414.5 217.5 414.5 213.5 415.5 211.5 415.5 212.5 415.5 211.5 415.5 215.5 415.5 217.5 415.5 216.5 415.5 213.5 415.5 215.5 415.5 216.5 415.5 218.5 416.5 217.5 416.5 218.5 416.5 216.5 416.5 214.5 416.5 219.5 416.5 221.5 416.5 219.5 416.5 215.5 416.5 216.5 416.5 214.5 417.5 215.5 417.5 213.5 417.5 216.5 417.5 219.5 417.5 217.5 417.5 216.5 417.5 211.5 417.5 212.5 417.5 216.5 417.5 214.5 418.5 219.5 418.5 216.5 418.5 218.5 418.5 219.5 418.5 216.5 418.5 217.5 418.5 214.5 418.5 216.5 418.5 212.5 419.5 209.5 419.5 211.5 419.5 210.5 419.5 212.5 419.5 213.5 419.5 219.5 419.5 215.5 419.5 218.5 419.5 219.5 420.5 216.5 420.5 217.5 420.5 218.5 420.5 215.5 420.5 218.5 420.5 217.5 420.5 233.5 420.5 222.5 420.5 218.5 421.5 219.5 421.5 217.5 421.5 215.5 421.5 206.5 421.5 216.5 421.5 220.5 421.5 218.5 421.5 220.5 421.5 221.5 421.5 225.5 421.5 222.5 422.5 222.5 422.5 218.5 422.5 217.5 422.5 216.5 422.5 214.5 422.5 217.5 422.5 220.5 423.5 219.5 423.5 214.5 423.5 216.5 423.5 219.5 423.5 218.5 423.5 215.5 423.5 214.5 423.5 215.5 424.5 218.5 424.5 219.5 424.5 220.5 424.5 214.5 424.5 212.5 424.5 216.5 424.5 222.5 424.5 221.5 425.5 219.5 425.5 218.5 425.5 216.5 425.5 218.5 425.5 219.5 425.5 217.5 425.5 222.5 425.5 219.5 425.5 216.5 426.5 219.5 426.5 215.5 426.5 217.5 426.5 214.5 426.5 218.5 426.5 220.5 426.5 219.5 426.5 220.5 427.5 219.5 427.5 220.5 427.5 217.5 427.5 215.5 427.5 218.5 427.5 215.5 427.5 218.5 427.5 215.5 427.5 216.5 428.5 216.5 428.5 215.5 428.5 217.5 428.5 215.5 428.5 217.5 428.5 215.5 428.5 219.5 429.5 218.5 429.5 216.5 429.5 215.5 429.5 214.5 429.5 217.5 429.5 220.5 429.5 218.5 429.5 213.5 429.5 216.5 429.5 215.5 430.5 215.5 430.5 216.5 430.5 217.5 430.5 198.5 430.5 213.5 430.5 218.5 430.5 217.5 430.5 214.5 430.5 213.5 430.5 219.5 431.5 220.5 431.5 222.5 431.5 223.5 431.5 225.5 431.5 220.5 431.5 223.5 431.5 222.5 431.5 227.5 431.5 232.5 431.5 228.5 432.5 228.5 432.5 230.5 432.5 232.5 432.5 231.5 432.5 256.5 432.5 240.5 432.5 231.5 432.5 234.5 432.5 243.5 432.5 238.5 433.5 237.5 433.5 240.5 433.5 243.5 433.5 241.5 433.5 240.5 433.5 243.5 433.5 246.5 433.5 249.5 434.5 249.5 434.5 244.5 434.5 245.5 434.5 249.5 434.5 245.5 434.5 242.5 434.5 240.5 434.5 238.5 434.5 241.5 435.5 240.5 435.5 242.5 435.5 241.5 435.5 238.5 435.5 237.5 435.5 235.5 435.5 232.5 435.5 239.5 435.5 235.5 436.5 236.5 436.5 234.5 436.5 231.5 436.5 232.5 436.5 234.5 436.5 235.5 436.5 232.5 436.5 229.5 437.5 231.5 437.5 235.5 437.5 236.5 437.5 233.5 437.5 236.5 437.5 238.5 437.5 233.5 437.5 234.5 437.5 233.5 438.5 234.5 438.5 235.5 438.5 234.5 438.5 235.5 438.5 233.5 438.5 236.5 438.5 235.5 438.5 232.5 439.5 235.5 439.5 234.5 439.5 233.5 439.5 229.5 439.5 228.5 439.5 232.5 439.5 228.5 439.5 229.5 440.5 234.5 440.5 230.5 440.5 229.5 440.5 232.5 440.5 229.5 440.5 226.5 440.5 231.5 441.5 229.5 441.5 228.5 441.5 232.5 441.5 231.5 441.5 233.5 441.5 232.5 441.5 230.5 441.5 227.5 441.5 229.5 442.5 227.5 442.5 226.5 442.5 230.5 442.5 227.5 442.5 223.5 442.5 225.5 442.5 221.5 442.5 227.5 442.5 230.5 442.5 229.5 442.5 225.5 443.5 225.5 443.5 227.5 443.5 228.5 443.5 225.5 443.5 226.5 443.5 228.5 443.5 227.5 443.5 223.5 443.5 228.5 444.5 229.5 444.5 226.5 444.5 227.5 444.5 223.5 444.5 227.5 444.5 229.5 444.5 225.5 444.5 224.5 444.5 225.5 444.5 226.5 445.5 227.5 445.5 225.5 445.5 223.5 445.5 222.5 445.5 223.5 445.5 228.5 445.5 226.5 445.5 224.5 445.5 226.5 445.5 227.5 446.5 221.5 446.5 225.5 446.5 224.5 446.5 218.5 446.5 211.5 446.5 220.5 446.5 222.5 446.5 225.5 447.5 224.5 447.5 221.5 447.5 222.5 447.5 224.5 447.5 217.5 447.5 219.5 447.5 217.5 447.5 221.5 447.5 220.5 447.5 219.5 448.5 215.5 448.5 213.5 448.5 214.5 448.5 223.5 448.5 218.5 448.5 216.5 448.5 217.5 449.5 219.5 449.5 220.5 449.5 226.5 449.5 223.5 449.5 219.5 449.5 221.5 449.5 217.5 449.5 218.5 449.5 219.5 450.5 216.5 450.5 219.5 450.5 217.5 450.5 215.5 450.5 217.5 450.5 215.5 450.5 216.5 450.5 221.5 450.5 219.5 450.5 220.5 451.5 223.5 451.5 218.5 451.5 220.5 451.5 219.5 451.5 215.5 451.5 216.5 451.5 218.5 451.5 213.5 451.5 215.5 451.5 214.5 451.5 211.5 452.5 212.5 452.5 215.5 452.5 217.5 452.5 214.5 452.5 213.5 452.5 216.5 452.5 218.5 452.5 217.5 452.5 216.5 452.5 217.5 453.5 219.5 453.5 214.5 453.5 216.5 453.5 215.5 453.5 218.5 453.5 219.5 453.5 221.5 453.5 220.5 453.5 221.5 453.5 220.5 454.5 224.5 454.5 222.5 454.5 220.5 454.5 216.5 454.5 219.5 454.5 218.5 454.5 220.5 454.5 216.5 454.5 217.5 455.5 201.5 455.5 213.5 455.5 215.5 455.5 216.5 455.5 219.5 455.5 216.5 455.5 217.5 455.5 219.5 455.5 216.5 455.5 215.5 455.5 214.5 456.5 216.5 456.5 214.5 456.5 217.5 456.5 219.5 456.5 222.5 456.5 220.5 456.5 222.5 456.5 224.5 456.5 222.5 456.5 216.5 457.5 219.5 457.5 220.5 457.5 221.5 457.5 222.5 457.5 220.5 457.5 214.5 457.5 216.5 457.5 215.5 457.5 219.5 457.5 220.5 457.5 218.5 458.5 217.5 458.5 218.5 458.5 219.5 458.5 220.5 458.5 214.5 458.5 213.5 458.5 218.5 458.5 217.5 459.5 223.5 459.5 222.5 459.5 219.5 459.5 220.5 459.5 221.5 459.5 220.5 459.5 219.5 459.5 220.5 459.5 219.5 460.5 224.5 460.5 221.5 460.5 220.5 460.5 219.5 460.5 221.5 460.5 219.5 460.5 220.5 460.5 216.5 460.5 221.5 461.5 220.5 461.5 218.5 461.5 219.5 461.5 220.5 461.5 221.5 461.5 223.5 462.5 223.5 462.5 220.5 462.5 218.5 462.5 219.5 462.5 222.5 462.5 220.5 462.5 221.5 462.5 218.5 462.5 216.5 462.5 219.5 463.5 219.5 463.5 217.5 463.5 220.5 463.5 218.5 463.5 215.5 463.5 216.5 463.5 215.5 463.5 217.5 463.5 222.5 463.5 219.5 463.5 213.5 464.5 216.5 464.5 217.5 464.5 219.5 464.5 217.5 464.5 216.5 464.5 220.5 464.5 219.5 464.5 217.5 464.5 210.5 465.5 215.5 465.5 213.5 465.5 218.5 465.5 216.5 465.5 212.5 465.5 214.5 465.5 212.5 465.5 216.5 465.5 218.5 465.5 215.5 466.5 212.5 466.5 213.5 466.5 217.5 466.5 220.5 466.5 218.5 466.5 222.5 466.5 220.5 466.5 223.5 466.5 221.5 466.5 206.5 467.5 214.5 467.5 213.5 467.5 211.5 467.5 214.5 467.5 217.5 467.5 215.5 467.5 219.5 467.5 218.5 467.5 217.5 467.5 219.5 468.5 222.5 468.5 225.5 468.5 219.5 468.5 215.5 468.5 219.5 468.5 221.5 468.5 223.5 469.5 223.5 469.5 222.5 469.5 221.5 469.5 225.5 469.5 226.5 469.5 228.5 469.5 223.5 470.5 229.5 470.5 227.5 470.5 225.5 470.5 223.5 470.5 220.5 470.5 227.5 470.5 229.5 470.5 231.5 470.5 229.5 470.5 224.5 471.5 220.5 471.5 221.5 471.5 222.5 471.5 223.5 471.5 217.5 471.5 222.5 471.5 221.5 471.5 222.5 471.5 221.5 471.5 229.5 472.5 232.5 472.5 230.5 472.5 231.5 472.5 227.5 472.5 223.5 472.5 220.5 472.5 222.5 472.5 223.5 472.5 225.5 473.5 225.5 473.5 226.5 473.5 225.5 473.5 227.5 473.5 224.5 473.5 227.5 473.5 228.5 473.5 226.5 474.5 228.5 474.5 229.5 474.5 227.5 474.5 225.5 474.5 226.5 474.5 227.5 474.5 226.5 474.5 228.5 474.5 225.5 474.5 224.5 474.5 221.5 475.5 224.5 475.5 229.5 475.5 233.5 475.5 226.5 475.5 224.5 475.5 226.5 475.5 224.5 475.5 226.5 475.5 219.5 475.5 224.5 476.5 222.5 476.5 228.5 476.5 230.5 476.5 225.5 476.5 223.5 476.5 220.5 476.5 219.5 476.5 220.5 476.5 226.5 477.5 227.5 477.5 228.5 477.5 229.5 477.5 225.5 477.5 227.5 477.5 229.5 477.5 225.5 477.5 224.5 477.5 227.5 477.5 223.5 478.5 224.5 478.5 223.5 478.5 221.5 478.5 222.5 478.5 221.5 478.5 224.5 478.5 220.5 478.5 217.5 478.5 218.5 479.5 219.5 479.5 220.5 479.5 223.5 479.5 218.5 479.5 222.5 479.5 224.5 479.5 226.5 479.5 222.5 479.5 218.5 479.5 221.5 479.5 224.5 480.5 225.5 480.5 223.5 480.5 222.5 480.5 223.5 480.5 225.5 480.5 227.5 480.5 226.5 480.5 221.5 481.5 224.5 481.5 223.5 481.5 221.5 481.5 222.5 481.5 220.5 481.5 222.5 481.5 224.5 481.5 222.5 481.5 217.5 481.5 224.5 481.5 226.5 482.5 226.5 482.5 224.5 482.5 219.5 482.5 220.5 482.5 221.5 482.5 224.5 482.5 225.5 482.5 223.5 482.5 224.5 483.5 225.5 483.5 226.5 483.5 224.5 483.5 229.5 483.5 227.5 483.5 229.5 483.5 227.5 483.5 222.5 483.5 221.5 484.5 225.5 484.5 224.5 484.5 225.5 484.5 229.5 484.5 227.5 484.5 226.5 484.5 227.5 484.5 226.5 484.5 221.5 485.5 224.5 485.5 226.5 485.5 223.5 485.5 226.5 485.5 224.5 485.5 226.5 485.5 227.5 485.5 223.5 485.5 224.5 485.5 226.5 486.5 226.5 486.5 224.5 486.5 228.5 486.5 231.5 486.5 229.5 486.5 233.5 486.5 230.5 486.5 227.5 486.5 224.5 486.5 221.5 487.5 219.5 487.5 217.5 487.5 221.5 487.5 224.5 487.5 223.5 487.5 225.5 487.5 222.5 487.5 223.5 487.5 217.5 488.5 224.5 488.5 225.5 488.5 227.5 488.5 226.5 488.5 227.5 488.5 230.5 488.5 225.5 488.5 226.5 489.5 226.5 489.5 225.5 489.5 226.5 489.5 227.5 489.5 224.5 489.5 225.5 489.5 223.5 489.5 220.5 489.5 224.5 490.5 223.5 490.5 224.5 490.5 226.5 490.5 225.5 490.5 224.5 490.5 227.5 490.5 226.5 490.5 225.5 490.5 223.5 491.5 218.5 491.5 220.5 491.5 221.5 491.5 224.5 491.5 220.5 491.5 222.5 491.5 225.5 491.5 226.5 491.5 229.5 491.5 227.5 492.5 228.5 492.5 226.5 492.5 224.5 492.5 230.5 492.5 226.5 492.5 225.5 492.5 226.5 492.5 229.5 492.5 227.5 492.5 225.5 493.5 219.5 493.5 224.5 493.5 223.5 493.5 224.5 493.5 227.5 493.5 225.5 493.5 227.5 493.5 226.5 494.5 225.5 494.5 222.5 494.5 223.5 494.5 227.5 494.5 221.5 494.5 223.5 494.5 221.5 494.5 224.5 494.5 228.5 494.5 227.5 495.5 226.5 495.5 227.5 495.5 228.5 495.5 227.5 495.5 228.5 495.5 227.5 495.5 229.5 495.5 227.5 495.5 226.5 495.5 224.5 495.5 220.5 496.5 222.5 496.5 201.5 496.5 213.5 496.5 221.5 496.5 224.5 496.5 201.5 496.5 215.5 496.5 221.5 496.5 222.5 496.5 218.5 496.5 223.5 497.5 228.5 497.5 237.5 497.5 229.5 497.5 224.5 497.5 222.5 497.5 223.5 497.5 218.5 497.5 219.5 497.5 225.5 497.5 228.5 497.5 235.5 498.5 225.5 498.5 226.5 498.5 227.5 498.5 226.5 498.5 224.5 498.5 225.5 498.5 226.5 498.5 224.5 498.5 223.5 498.5 220.5 499.5 221.5 499.5 223.5 499.5 222.5 499.5 218.5 499.5 220.5 499.5 218.5 499.5 219.5 499.5 217.5 499.5 220.5 499.5 222.5 500.5 224.5 500.5 221.5 500.5 222.5 500.5 221.5 500.5 222.5 500.5 221.5 500.5 222.5 500.5 223.5 500.5 219.5 501.5 222.5 501.5 223.5 501.5 227.5 501.5 224.5 501.5 225.5 501.5 228.5 501.5 226.5 501.5 225.5 501.5 222.5 501.5 226.5 502.5 225.5 502.5 224.5 502.5 223.5 502.5 225.5 502.5 221.5 502.5 219.5 502.5 221.5 502.5 223.5 503.5 223.5 503.5 221.5 503.5 222.5 503.5 221.5 503.5 223.5 503.5 225.5 503.5 223.5 504.5 218.5 504.5 219.5 504.5 220.5 504.5 221.5 504.5 224.5 504.5 226.5 504.5 223.5 504.5 217.5 504.5 218.5 504.5 217.5 504.5 224.5 505.5 221.5 505.5 225.5 505.5 223.5 505.5 224.5 505.5 225.5 505.5 223.5 505.5 221.5 505.5 217.5 505.5 213.5 506.5 215.5 506.5 218.5 506.5 217.5 506.5 219.5 506.5 222.5 506.5 224.5 506.5 222.5 506.5 219.5 506.5 220.5 507.5 215.5 507.5 219.5 507.5 221.5 507.5 219.5 507.5 222.5 507.5 224.5 507.5 225.5 507.5 223.5 507.5 224.5 507.5 220.5 507.5 223.5 508.5 222.5 508.5 225.5 508.5 222.5 508.5 215.5 508.5 218.5 508.5 224.5 508.5 223.5 508.5 220.5 508.5 214.5 508.5 222.5 508.5 221.5 509.5 222.5 509.5 218.5 509.5 217.5 509.5 218.5 509.5 223.5 509.5 224.5 509.5 227.5 509.5 222.5 509.5 217.5 510.5 218.5 510.5 217.5 510.5 219.5 510.5 220.5 510.5 216.5 510.5 217.5 510.5 215.5 511.5 218.5 511.5 217.5 511.5 213.5 511.5 217.5 511.5 218.5 511.5 220.5 511.5 218.5 511.5 222.5 511.5 223.5 512.5 220.5 512.5 219.5 512.5 217.5 512.5 220.5 512.5 216.5 512.5 220.5 512.5 216.5 512.5 220.5 512.5 224.5 512.5 227.5 513.5 227.5 513.5 225.5 513.5 220.5 513.5 219.5 513.5 217.5 513.5 220.5 513.5 216.5 513.5 215.5 513.5 218.5 513.5 219.5 513.5 217.5 514.5 191.5 514.5 210.5 514.5 216.5 514.5 217.5 514.5 219.5 514.5 217.5 514.5 223.5 514.5 220.5 514.5 217.5 514.5 214.5 515.5 216.5 515.5 215.5 515.5 214.5 515.5 215.5 515.5 217.5 515.5 216.5 515.5 217.5 515.5 218.5 515.5 219.5 515.5 216.5 515.5 220.5 516.5 220.5 516.5 218.5 516.5 217.5 516.5 216.5 516.5 224.5 516.5 221.5 516.5 219.5 516.5 213.5 516.5 221.5 516.5 224.5 516.5 219.5 517.5 223.5 517.5 224.5 517.5 221.5 517.5 220.5 517.5 218.5 517.5 221.5 517.5 217.5 517.5 215.5 517.5 217.5 517.5 218.5 518.5 222.5 518.5 224.5 518.5 222.5 518.5 223.5 518.5 219.5 518.5 215.5 518.5 214.5 518.5 218.5 519.5 217.5 519.5 220.5 519.5 221.5 519.5 220.5 519.5 222.5 519.5 219.5 519.5 215.5 519.5 212.5 519.5 214.5 520.5 222.5 520.5 221.5 520.5 217.5 520.5 219.5 520.5 221.5 520.5 224.5 520.5 225.5 520.5 223.5 520.5 220.5 521.5 221.5 521.5 219.5 521.5 221.5 521.5 220.5 521.5 214.5 521.5 219.5 521.5 216.5 521.5 204.5 521.5 214.5 521.5 219.5 522.5 218.5 522.5 219.5 522.5 222.5 522.5 224.5 522.5 222.5 522.5 219.5 522.5 222.5 522.5 224.5 522.5 225.5 522.5 227.5 523.5 223.5 523.5 222.5 523.5 224.5 523.5 226.5 523.5 224.5 523.5 226.5 523.5 229.5 523.5 224.5 524.5 225.5 524.5 223.5 524.5 224.5 524.5 225.5 524.5 221.5 524.5 220.5 524.5 221.5 524.5 220.5 524.5 222.5 524.5 224.5 525.5 225.5 525.5 223.5 525.5 225.5 525.5 221.5 525.5 220.5 525.5 218.5 525.5 217.5 525.5 221.5 525.5 223.5 526.5 219.5 526.5 218.5 526.5 217.5 526.5 219.5 526.5 223.5 526.5 221.5 526.5 225.5 526.5 223.5 526.5 221.5 526.5 222.5 527.5 225.5 527.5 223.5 527.5 226.5 527.5 223.5 527.5 222.5 527.5 220.5 527.5 218.5 527.5 220.5 527.5 219.5 527.5 217.5 528.5 220.5 528.5 221.5 528.5 220.5 528.5 223.5 528.5 224.5 528.5 223.5 528.5 226.5 528.5 227.5 529.5 226.5 529.5 222.5 529.5 218.5 529.5 219.5 529.5 223.5 529.5 224.5 529.5 223.5 529.5 222.5 530.5 223.5 530.5 221.5 530.5 227.5 530.5 228.5 530.5 227.5 530.5 223.5 530.5 216.5 530.5 222.5 530.5 221.5 530.5 219.5 531.5 220.5 531.5 221.5 531.5 222.5 531.5 220.5 531.5 222.5 531.5 226.5 531.5 223.5 531.5 220.5 531.5 218.5 531.5 222.5 532.5 223.5 532.5 225.5 532.5 223.5 532.5 221.5 532.5 223.5 532.5 224.5 532.5 225.5 533.5 228.5 533.5 223.5 533.5 224.5 533.5 222.5 533.5 223.5 533.5 221.5 533.5 222.5 533.5 221.5 533.5 223.5 533.5 220.5 534.5 221.5 534.5 223.5 534.5 220.5 534.5 222.5 534.5 226.5 534.5 221.5 534.5 222.5 534.5 221.5 534.5 222.5 535.5 224.5 535.5 219.5 535.5 218.5 535.5 216.5 535.5 218.5 535.5 216.5 535.5 218.5 535.5 221.5 535.5 219.5 536.5 219.5 536.5 216.5 536.5 218.5 536.5 219.5 536.5 216.5 536.5 213.5 536.5 216.5 536.5 214.5 536.5 213.5 536.5 215.5 537.5 216.5 537.5 213.5 537.5 219.5 537.5 220.5 537.5 219.5 537.5 216.5 537.5 217.5 537.5 220.5 537.5 217.5 538.5 211.5 538.5 214.5 538.5 216.5 538.5 219.5 538.5 220.5 538.5 221.5 538.5 196.5 538.5 215.5 538.5 227.5 538.5 229.5 539.5 229.5 539.5 228.5 539.5 234.5 539.5 235.5 539.5 238.5 539.5 235.5 539.5 232.5 539.5 230.5 539.5 234.5 539.5 235.5 540.5 234.5 540.5 233.5 540.5 229.5 540.5 234.5 540.5 233.5 540.5 231.5 540.5 228.5 540.5 230.5 541.5 228.5 541.5 229.5 541.5 231.5 541.5 233.5 541.5 229.5 541.5 226.5 541.5 225.5 541.5 229.5 541.5 230.5 541.5 229.5 542.5 226.5 542.5 224.5 542.5 226.5 542.5 223.5 542.5 226.5 542.5 230.5 542.5 226.5 542.5 228.5 543.5 227.5 543.5 229.5 543.5 227.5 543.5 229.5 543.5 228.5 543.5 223.5 543.5 224.5 543.5 225.5 544.5 225.5 544.5 227.5 544.5 228.5 544.5 223.5 544.5 226.5 544.5 225.5 544.5 228.5 544.5 231.5 544.5 230.5 544.5 227.5 545.5 223.5 545.5 226.5 545.5 230.5 545.5 228.5 545.5 226.5 545.5 229.5 545.5 210.5 545.5 224.5 545.5 235.5 545.5 236.5 545.5 235.5 546.5 235.5 546.5 234.5 546.5 236.5 546.5 230.5 546.5 233.5 546.5 237.5 546.5 239.5 546.5 240.5 546.5 241.5 546.5 240.5 547.5 236.5 547.5 239.5 547.5 236.5 547.5 238.5 547.5 239.5 547.5 242.5 547.5 245.5 548.5 245.5 548.5 247.5 548.5 244.5 548.5 246.5 548.5 247.5 548.5 246.5 548.5 244.5 548.5 243.5 548.5 238.5 548.5 237.5 549.5 235.5 549.5 234.5 549.5 230.5 549.5 233.5 549.5 229.5 549.5 227.5 549.5 225.5 549.5 229.5 550.5 229.5 550.5 230.5 550.5 231.5 550.5 230.5 550.5 228.5 550.5 227.5 550.5 231.5 550.5 232.5 550.5 231.5 551.5 232.5 551.5 230.5 551.5 234.5 551.5 231.5 551.5 229.5 551.5 226.5 551.5 229.5 551.5 228.5 551.5 223.5 552.5 226.5 552.5 224.5 552.5 227.5 552.5 226.5 552.5 227.5 552.5 220.5 552.5 223.5 552.5 222.5 553.5 220.5 553.5 227.5 553.5 226.5 553.5 224.5 553.5 219.5 553.5 216.5 553.5 220.5 553.5 221.5 553.5 223.5 553.5 220.5 553.5 223.5 554.5 224.5 554.5 223.5 554.5 225.5 554.5 222.5 554.5 224.5 554.5 223.5 554.5 220.5 554.5 217.5 554.5 221.5 555.5 222.5 555.5 224.5 555.5 222.5 555.5 220.5 555.5 217.5 555.5 219.5 555.5 212.5 555.5 215.5 556.5 214.5 556.5 219.5 556.5 220.5 556.5 218.5 556.5 215.5 556.5 213.5 556.5 214.5 556.5 219.5 556.5 216.5 556.5 219.5 557.5 216.5 557.5 211.5 557.5 212.5 557.5 216.5 557.5 217.5 557.5 218.5 557.5 219.5 557.5 218.5 557.5 219.5 557.5 215.5 558.5 214.5 558.5 218.5 558.5 219.5 558.5 215.5 558.5 213.5 558.5 216.5 558.5 217.5 558.5 216.5 558.5 213.5 559.5 212.5 559.5 210.5 559.5 212.5 559.5 216.5 559.5 206.5 559.5 211.5 559.5 212.5 559.5 214.5 559.5 220.5 559.5 221.5 560.5 222.5 560.5 225.5 560.5 223.5 560.5 225.5 560.5 228.5 560.5 227.5 560.5 229.5 560.5 233.5 560.5 235.5 560.5 232.5 561.5 230.5 561.5 234.5 561.5 233.5 561.5 234.5 561.5 230.5 561.5 231.5 561.5 230.5 561.5 229.5 561.5 233.5 562.5 234.5 562.5 236.5 562.5 234.5 562.5 233.5 562.5 230.5 562.5 227.5 562.5 229.5 562.5 230.5 562.5 234.5 562.5 236.5 563.5 236.5 563.5 237.5 563.5 233.5 563.5 228.5 563.5 232.5 563.5 228.5 563.5 229.5 563.5 225.5 564.5 220.5 564.5 223.5 564.5 224.5 564.5 226.5 564.5 228.5 564.5 232.5 564.5 230.5 564.5 226.5 564.5 228.5 564.5 226.5 565.5 226.5 565.5 224.5 565.5 221.5 565.5 222.5 565.5 226.5 565.5 224.5 565.5 225.5 565.5 224.5 565.5 223.5 565.5 225.5 566.5 226.5 566.5 227.5 566.5 226.5 566.5 222.5 566.5 219.5 566.5 223.5 566.5 222.5 566.5 223.5 566.5 222.5 567.5 224.5 567.5 221.5 567.5 218.5 567.5 221.5 567.5 225.5 567.5 227.5 567.5 224.5 567.5 225.5 567.5 221.5 568.5 220.5 568.5 222.5 568.5 223.5 568.5 221.5 568.5 215.5 568.5 214.5 568.5 219.5 568.5 214.5 568.5 216.5 568.5 214.5 569.5 212.5 569.5 215.5 569.5 216.5 569.5 217.5 569.5 218.5 569.5 217.5 569.5 218.5 569.5 215.5 569.5 214.5 570.5 218.5 570.5 220.5 570.5 216.5 570.5 214.5 570.5 213.5 570.5 217.5 570.5 215.5 570.5 218.5 570.5 216.5 570.5 218.5 570.5 220.5 571.5 218.5 571.5 216.5 571.5 217.5 571.5 212.5 571.5 213.5 571.5 212.5 571.5 211.5 571.5 218.5 571.5 216.5 571.5 215.5 572.5 217.5 572.5 216.5 572.5 217.5 572.5 218.5 572.5 217.5 572.5 215.5 572.5 216.5 572.5 213.5 572.5 210.5 572.5 211.5 572.5 213.5 573.5 216.5 573.5 218.5 573.5 220.5 573.5 217.5 573.5 216.5 573.5 188.5 573.5 206.5 573.5 218.5 573.5 215.5 573.5 217.5 574.5 218.5 574.5 219.5 574.5 221.5 574.5 219.5 574.5 222.5 574.5 220.5 574.5 223.5 574.5 224.5 574.5 221.5 574.5 222.5 575.5 223.5 575.5 222.5 575.5 220.5 575.5 218.5 575.5 220.5 575.5 219.5 575.5 228.5 575.5 219.5 575.5 221.5 576.5 222.5 576.5 220.5 576.5 223.5 576.5 221.5 576.5 217.5 576.5 219.5 576.5 223.5 576.5 217.5 576.5 222.5 576.5 224.5 577.5 224.5 577.5 220.5 577.5 221.5 577.5 228.5 577.5 223.5 577.5 225.5 577.5 220.5 577.5 218.5 577.5 214.5 577.5 212.5 577.5 210.5 578.5 203.5 578.5 210.5 578.5 213.5 578.5 217.5 578.5 219.5 578.5 217.5 578.5 216.5 578.5 215.5 578.5 212.5 579.5 216.5 579.5 217.5 579.5 214.5 579.5 211.5 579.5 212.5 579.5 213.5 579.5 212.5 579.5 214.5 579.5 216.5 579.5 219.5 580.5 212.5 580.5 211.5 580.5 214.5 580.5 216.5 580.5 215.5 580.5 213.5 580.5 216.5 580.5 214.5 580.5 213.5 580.5 216.5"/>
</g>
<path d="M120 30.5H582 M120 172.5H582 M120.5 30V173 M581.5 30V173 M120.5 173V181 M188.5 173V177 M249.5 173V181 M317.5 173V177 M383.5 173V181 M451.5 173V177 M517.5 173V181 M120 184.5H582 M120 326.5H582 M120.5 184V327 M581.5 184V327 M120.5 327V335 M188.5 327V331 M249.5 327V335 M317.5 327V331 M383.5 327V335 M451.5 327V331 M517.5 327V335 M120 338.5H582 M120 480.5H582 M120.5 338V481 M581.5 338V481 M120.5 481V489 M188.5 481V485 M249.5 481V489 M317.5 481V485 M383.5 481V489 M451.5 481V485 M517.5 481V489 M112 165.5H120 M116 149.5H120 M112 134.5H120 M116 118.5H120 M112 103.5H120 M116 87.5H120 M112 72.5H120 M116 56.5H120 M112 41.5H120 M112 322.5H120 M116 315.5H120 M116 308.5H120 M116 301.5H120 M116 294.5H120 M112 287.5H120 M116 280.5H120 M116 273.5H120 M116 266.5H120 M116 259.5H120 M112 252.5H120 M116 245.5H120 M116 238.5H120 M116 231.5H120 M116 224.5H120 M112 217.5H120 M116 210.5H120 M116 203.5H120 M116 196.5H120 M116 189.5H120 M116 479.5H120 M116 477.5H120 M116 475.5H120 M112 473.5H120 M116 471.5H120 M116 469.5H120 M116 467.5H120 M116 466.5H120 M116 464.5H120 M116 462.5H120 M116 460.5H120 M116 458.5H120 M116 456.5H120 M112 455.5H120 M116 453.5H120 M116 451.5H120 M116 449.5H120 M116 447.5H120 M116 445.5H120 M116 444.5H120 M116 442.5H120 M116 440.5H120 M116 438.5H120 M112 436.5H120 M116 434.5H120 M116 432.5H120 M116 431.5H120 M116 429.5H120 M116 427.5H120 M116 425.5H120 M116 423.5H120 M116 421.5H120 M116 420.5H120 M112 418.5H120 M116 416.5H120 M116 414.5H120 M116 412.5H120 M116 410.5H120 M116 409.5H120 M116 407.5H120 M116 405.5H120 M116 403.5H120 M116 401.5H120 M112 399.5H120 M116 397.5H120 M116 396.5H120 M116 394.5H120 M116 392.5H120 M116 390.5H120 M116 388.5H120 M116 386.5H120 M116 385.5H120 M116 383.5H120 M112 381.5H120 M116 379.5H120 M116 377.5H120 M116 375.5H120 M116 373.5H120 M116 372.5H120 M116 370.5H120 M116 368.5H120 M116 366.5H120 M116 364.5H120 M112 362.5H120 M116 361.5H120 M116 359.5H120 M116 357.5H120 M116 355.5H120 M116 353.5H120 M116 351.5H120 M116 350.5H120 M116 348.5H120 M116 346.5H120 M112 344.5H120 M116 342.5H120 M116 340.5H120 M116 338.5H120 M605 476.5H610 M605 474.5H610 M605 472.5H610 M605 470.5H610 M605 468.5H610 M605 467.5H614 M605 457.5H610 M605 451.5H610 M605 447.5H610 M605 444.5H610 M605 442.5H610 M605 439.5H610 M605 437.5H610 M605 436.5H610 M605 434.5H614 M605 425.5H610 M605 419.5H610 M605 415.5H610 M605 412.5H610 M605 409.5H610 M605 407.5H610 M605 405.5H610 M605 404.5H610 M605 402.5H614 M605 392.5H610 M605 387.5H610 M605 383.5H610 M605 380.5H610 M605 377.5H610 M605 375.5H610 M605 373.5H610 M605 371.5H610 M605 370.5H614 M605 360.5H610 M605 354.5H610 M605 350.5H610 M605 347.5H610 M605 345.5H610 M605 343.5H610 M605 341.5H610 M605 339.5H610 M605 467.5H614 M605 434.5H614 M605 402.5H614 M605 370.5H614 M605 338.5H614 M605.5 338V481 M593 480.5H606" stroke="#000" stroke-width="1" fill="none" shape-rendering="crispEdges"/>
<text x="100" y="170">0</text><text x="92 100" y="139">20</text><text x="92 100" y="108">40</text><text x="92 100" y="77">60</text><text x="92 100" y="46">80</text><text x="80 84 92 100" y="327">-150</text><text x="80 84 92 100" y="292">-100</text><text x="88 92 100" y="257">-50</text><text x="100" y="222">0</text><text x="96 100" y="478">-1</text><text x="100" y="460">0</text><text x="100" y="441">1</text><text x="100" y="423">2</text><text x="100" y="404">3</text><text x="100" y="386">4</text><text x="100" y="367">5</text><text x="100" y="349">6</text><text x="617 625" y="475">10</text><text x="633 637" y="469">-1</text><text x="617 625" y="442">10</text><text x="633" y="436">0</text><text x="617 625" y="410">10</text><text x="633" y="404">1</text><text x="617 625" y="378">10</text><text x="633" y="372">2</text><text x="617 625" y="346">10</text><text x="633" y="340">3</text><text x="84 92 100 108 116 120 128 136 140 148" y="504">2007-01-01</text><text x="213 221 229 237 245 249 257 265 269 277" y="504">2007-03-01</text><text x="347 355 363 371 379 383 391 399 403 411" y="504">2007-05-01</text><text x="481 489 497 505 513 517 525 533 537 545" y="504">2007-07-01</text><text transform="translate(47,109) rotate(-90)" x="0 8" y="0">Kp</text><text transform="translate(59,148) rotate(-90)" x="0 5 12 16 24 28 32 40 50 54 64 68 76 84" y="0">(e.g. 3+ = 33,</text><text transform="translate(71,128) rotate(-90)" x="0 8 12 16 26 30 38 46" y="0">6- = 57,</text><text transform="translate(83,142) rotate(-90)" x="0 8 12 22 26 34 42 46 50 57 62 69 73" y="0">4 = 40, etc.)</text><text transform="translate(71,267) rotate(-90)" x="0 9 17" y="0">DST</text><text transform="translate(87,444) rotate(-90)" x="0 7 12 19 24 31 39 44 51 54 62" y="0">Proton Flux</text>
</svg>
</body></html>
